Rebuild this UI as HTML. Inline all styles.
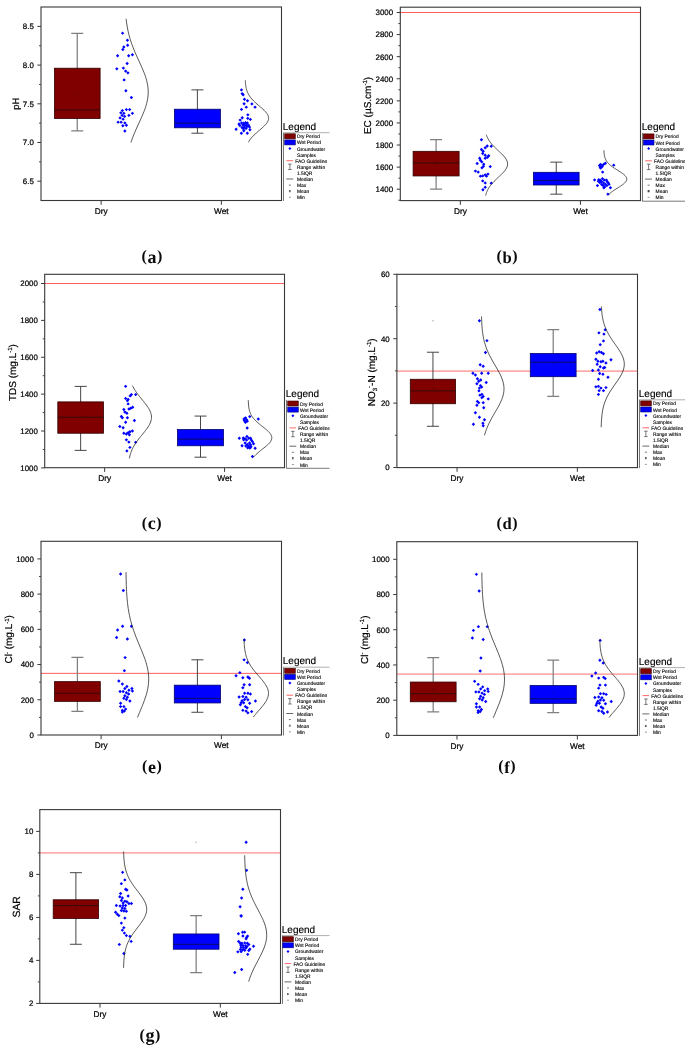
<!DOCTYPE html>
<html><head><meta charset="utf-8"><title>Figure</title>
<style>html,body{margin:0;padding:0;background:#fff;}body{width:685px;height:1046px;overflow:hidden;font-family:"Liberation Sans",sans-serif;}svg{display:block;will-change:transform;}</style>
</head><body>
<svg width="685" height="1046" viewBox="0 0 685 1046" text-rendering="geometricPrecision" font-family="'Liberation Sans', sans-serif">
<defs><clipPath id="cl"><rect x="0" y="0" width="329.5" height="1046"/></clipPath><clipPath id="cr"><rect x="343" y="0" width="342" height="1046"/></clipPath></defs>
<rect width="685" height="1046" fill="#fff"/>
<g>
<path d="M77.25 33.37V130.89M71.25 33.37H83.25M71.25 130.89H83.25" stroke="#808080" stroke-width="1.25" fill="none"/>
<rect x="54.4" y="68.2" width="45.7" height="50.31" fill="#800000" stroke="#300000" stroke-width="0.8"/>
<path d="M54.4 109.99H100.1" stroke="#101010" stroke-width="0.65"/>
<rect x="76.75" y="94.01" width="1" height="1" fill="#300000" opacity="0.8"/>
<path d="M197.4 89.87V133.21M191.4 89.87H203.4M191.4 133.21H203.4" stroke="#3c3c3c" stroke-width="0.95" fill="none"/>
<rect x="174.4" y="109.22" width="46" height="18.58" fill="#0000ff" stroke="#000070" stroke-width="0.8"/>
<path d="M174.4 123.15H220.4" stroke="#101010" stroke-width="0.65"/>
<rect x="196.9" y="117.23" width="1" height="1" fill="#000070" opacity="0.8"/>
<path d="M122.61 31.47l1.7 1.7l-1.7 1.7l-1.7 -1.7z" fill="#0000ff"/>
<path d="M127.39 38.5l1.7 1.7l-1.7 1.7l-1.7 -1.7z" fill="#0000ff"/>
<path d="M127.64 43.53l1.7 1.7l-1.7 1.7l-1.7 -1.7z" fill="#0000ff"/>
<path d="M123.87 45.28l1.7 1.7l-1.7 1.7l-1.7 -1.7z" fill="#0000ff"/>
<path d="M122.86 47.8l1.7 1.7l-1.7 1.7l-1.7 -1.7z" fill="#0000ff"/>
<path d="M117.59 54.08l1.7 1.7l-1.7 1.7l-1.7 -1.7z" fill="#0000ff"/>
<path d="M132.41 53.07l1.7 1.7l-1.7 1.7l-1.7 -1.7z" fill="#0000ff"/>
<path d="M128.64 54.08l1.7 1.7l-1.7 1.7l-1.7 -1.7z" fill="#0000ff"/>
<path d="M127.14 61.87l1.7 1.7l-1.7 1.7l-1.7 -1.7z" fill="#0000ff"/>
<path d="M116.83 67.14l1.7 1.7l-1.7 1.7l-1.7 -1.7z" fill="#0000ff"/>
<path d="M123.37 66.39l1.7 1.7l-1.7 1.7l-1.7 -1.7z" fill="#0000ff"/>
<path d="M125.63 69.41l1.7 1.7l-1.7 1.7l-1.7 -1.7z" fill="#0000ff"/>
<path d="M127.89 71.16l1.7 1.7l-1.7 1.7l-1.7 -1.7z" fill="#0000ff"/>
<path d="M124.12 78.2l1.7 1.7l-1.7 1.7l-1.7 -1.7z" fill="#0000ff"/>
<path d="M125.88 89l1.7 1.7l-1.7 1.7l-1.7 -1.7z" fill="#0000ff"/>
<path d="M131.41 95.84l1.7 1.7l-1.7 1.7l-1.7 -1.7z" fill="#0000ff"/>
<path d="M122.36 108.9l1.7 1.7l-1.7 1.7l-1.7 -1.7z" fill="#0000ff"/>
<path d="M126.38 107.9l1.7 1.7l-1.7 1.7l-1.7 -1.7z" fill="#0000ff"/>
<path d="M129.65 107.9l1.7 1.7l-1.7 1.7l-1.7 -1.7z" fill="#0000ff"/>
<path d="M120.85 111.16l1.7 1.7l-1.7 1.7l-1.7 -1.7z" fill="#0000ff"/>
<path d="M123.87 111.67l1.7 1.7l-1.7 1.7l-1.7 -1.7z" fill="#0000ff"/>
<path d="M132.41 111.67l1.7 1.7l-1.7 1.7l-1.7 -1.7z" fill="#0000ff"/>
<path d="M128.89 113.68l1.7 1.7l-1.7 1.7l-1.7 -1.7z" fill="#0000ff"/>
<path d="M122.11 113.68l1.7 1.7l-1.7 1.7l-1.7 -1.7z" fill="#0000ff"/>
<path d="M124.62 114.68l1.7 1.7l-1.7 1.7l-1.7 -1.7z" fill="#0000ff"/>
<path d="M120.1 116.19l1.7 1.7l-1.7 1.7l-1.7 -1.7z" fill="#0000ff"/>
<path d="M123.12 117.45l1.7 1.7l-1.7 1.7l-1.7 -1.7z" fill="#0000ff"/>
<path d="M118.09 120.46l1.7 1.7l-1.7 1.7l-1.7 -1.7z" fill="#0000ff"/>
<path d="M121.11 120.46l1.7 1.7l-1.7 1.7l-1.7 -1.7z" fill="#0000ff"/>
<path d="M124.87 121.21l1.7 1.7l-1.7 1.7l-1.7 -1.7z" fill="#0000ff"/>
<path d="M126.38 123.48l1.7 1.7l-1.7 1.7l-1.7 -1.7z" fill="#0000ff"/>
<path d="M122.86 123.98l1.7 1.7l-1.7 1.7l-1.7 -1.7z" fill="#0000ff"/>
<path d="M124.87 129.25l1.7 1.7l-1.7 1.7l-1.7 -1.7z" fill="#0000ff"/>
<path d="M241.46 88.19l1.7 1.7l-1.7 1.7l-1.7 -1.7z" fill="#0000ff"/>
<path d="M242.16 91.95l1.7 1.7l-1.7 1.7l-1.7 -1.7z" fill="#0000ff"/>
<path d="M243.13 93l1.7 1.7l-1.7 1.7l-1.7 -1.7z" fill="#0000ff"/>
<path d="M244.44 97.56l1.7 1.7l-1.7 1.7l-1.7 -1.7z" fill="#0000ff"/>
<path d="M247.5 99.04l1.7 1.7l-1.7 1.7l-1.7 -1.7z" fill="#0000ff"/>
<path d="M244.09 102.02l1.7 1.7l-1.7 1.7l-1.7 -1.7z" fill="#0000ff"/>
<path d="M251.88 102.2l1.7 1.7l-1.7 1.7l-1.7 -1.7z" fill="#0000ff"/>
<path d="M246.28 105.44l1.7 1.7l-1.7 1.7l-1.7 -1.7z" fill="#0000ff"/>
<path d="M255.04 105.44l1.7 1.7l-1.7 1.7l-1.7 -1.7z" fill="#0000ff"/>
<path d="M241.46 107.71l1.7 1.7l-1.7 1.7l-1.7 -1.7z" fill="#0000ff"/>
<path d="M247.85 113.14l1.7 1.7l-1.7 1.7l-1.7 -1.7z" fill="#0000ff"/>
<path d="M242.25 116.03l1.7 1.7l-1.7 1.7l-1.7 -1.7z" fill="#0000ff"/>
<path d="M247.77 116.65l1.7 1.7l-1.7 1.7l-1.7 -1.7z" fill="#0000ff"/>
<path d="M250.39 117.7l1.7 1.7l-1.7 1.7l-1.7 -1.7z" fill="#0000ff"/>
<path d="M240.15 118.4l1.7 1.7l-1.7 1.7l-1.7 -1.7z" fill="#0000ff"/>
<path d="M239.01 122.34l1.7 1.7l-1.7 1.7l-1.7 -1.7z" fill="#0000ff"/>
<path d="M241.64 121.29l1.7 1.7l-1.7 1.7l-1.7 -1.7z" fill="#0000ff"/>
<path d="M243.83 121.46l1.7 1.7l-1.7 1.7l-1.7 -1.7z" fill="#0000ff"/>
<path d="M245.58 121.02l1.7 1.7l-1.7 1.7l-1.7 -1.7z" fill="#0000ff"/>
<path d="M247.33 121.29l1.7 1.7l-1.7 1.7l-1.7 -1.7z" fill="#0000ff"/>
<path d="M239.89 123.91l1.7 1.7l-1.7 1.7l-1.7 -1.7z" fill="#0000ff"/>
<path d="M242.95 123.21l1.7 1.7l-1.7 1.7l-1.7 -1.7z" fill="#0000ff"/>
<path d="M244.7 123.65l1.7 1.7l-1.7 1.7l-1.7 -1.7z" fill="#0000ff"/>
<path d="M246.45 123.21l1.7 1.7l-1.7 1.7l-1.7 -1.7z" fill="#0000ff"/>
<path d="M248.64 123.65l1.7 1.7l-1.7 1.7l-1.7 -1.7z" fill="#0000ff"/>
<path d="M242.08 125.84l1.7 1.7l-1.7 1.7l-1.7 -1.7z" fill="#0000ff"/>
<path d="M244.26 125.4l1.7 1.7l-1.7 1.7l-1.7 -1.7z" fill="#0000ff"/>
<path d="M246.89 124.96l1.7 1.7l-1.7 1.7l-1.7 -1.7z" fill="#0000ff"/>
<path d="M249.52 125.4l1.7 1.7l-1.7 1.7l-1.7 -1.7z" fill="#0000ff"/>
<path d="M236.12 127.59l1.7 1.7l-1.7 1.7l-1.7 -1.7z" fill="#0000ff"/>
<path d="M243.39 127.15l1.7 1.7l-1.7 1.7l-1.7 -1.7z" fill="#0000ff"/>
<path d="M246.02 126.72l1.7 1.7l-1.7 1.7l-1.7 -1.7z" fill="#0000ff"/>
<path d="M249.96 128.03l1.7 1.7l-1.7 1.7l-1.7 -1.7z" fill="#0000ff"/>
<path d="M243.83 129.08l1.7 1.7l-1.7 1.7l-1.7 -1.7z" fill="#0000ff"/>
<path d="M241.37 131.53l1.7 1.7l-1.7 1.7l-1.7 -1.7z" fill="#0000ff"/>
<path d="M247.33 131.53l1.7 1.7l-1.7 1.7l-1.7 -1.7z" fill="#0000ff"/>
<path d="M126.09 18.8 L126.34 20.86 L126.62 22.92 L126.93 24.98 L127.28 27.05 L127.67 29.11 L128.1 31.17 L128.57 33.23 L129.09 35.29 L129.65 37.36 L130.26 39.42 L130.92 41.48 L131.62 43.54 L132.37 45.6 L133.15 47.66 L133.98 49.73 L134.84 51.79 L135.73 53.85 L136.65 55.91 L137.58 57.97 L138.52 60.03 L139.47 62.09 L140.41 64.16 L141.34 66.22 L142.25 68.28 L143.12 70.34 L143.95 72.4 L144.73 74.47 L145.46 76.53 L146.11 78.59 L146.68 80.65 L147.17 82.71 L147.57 84.77 L147.88 86.83 L148.08 88.9 L148.19 90.96 L148.19 93.02 L148.08 95.08 L147.88 97.14 L147.58 99.2 L147.18 101.27 L146.69 103.33 L146.11 105.39 L145.46 107.45 L144.74 109.51 L143.96 111.58 L143.13 113.64 L142.26 115.7 L141.35 117.76 L140.42 119.82 L139.48 121.88 L138.53 123.94 L137.59 126.01 L136.66 128.07 L135.74 130.13 L134.85 132.19 L133.99 134.25 L133.16 136.32 L132.38 138.38 L131.63 140.44 L130.93 142.5" fill="none" stroke="#1e1e1e" stroke-width="0.75"/>
<path d="M245.31 80.3 L245.36 81.33 L245.43 82.37 L245.51 83.4 L245.61 84.43 L245.74 85.47 L245.9 86.5 L246.09 87.53 L246.31 88.57 L246.58 89.6 L246.9 90.63 L247.27 91.67 L247.7 92.7 L248.19 93.73 L248.75 94.77 L249.39 95.8 L250.09 96.83 L250.88 97.87 L251.74 98.9 L252.67 99.93 L253.67 100.97 L254.74 102 L255.86 103.03 L257.02 104.07 L258.22 105.1 L259.43 106.13 L260.64 107.17 L261.83 108.2 L262.98 109.23 L264.08 110.27 L265.09 111.3 L266.01 112.33 L266.81 113.37 L267.47 114.4 L268 115.43 L268.36 116.47 L268.56 117.5 L268.59 118.53 L268.45 119.57 L268.14 120.6 L267.68 121.63 L267.06 122.67 L266.3 123.7 L265.43 124.73 L264.45 125.77 L263.38 126.8 L262.25 127.83 L261.07 128.87 L259.86 129.9 L258.65 130.93 L257.45 131.97 L256.27 133 L255.13 134.03 L254.05 135.07 L253.02 136.1 L252.06 137.13 L251.18 138.17 L250.36 139.2 L249.63 140.23 L248.97 141.27 L248.38 142.3" fill="none" stroke="#1e1e1e" stroke-width="0.75"/>
<rect x="41" y="7" width="240.5" height="193.5" fill="none" stroke="#383838" stroke-width="1.1"/>
<path d="M37.4 26.4H41" stroke="#383838" stroke-width="1"/>
<text x="33.8" y="29.25" font-size="7.9" text-anchor="end" fill="#000" stroke="#000" stroke-width="0.22">8.5</text>
<path d="M37.4 65.1H41" stroke="#383838" stroke-width="1"/>
<text x="33.8" y="67.95" font-size="7.9" text-anchor="end" fill="#000" stroke="#000" stroke-width="0.22">8.0</text>
<path d="M37.4 103.8H41" stroke="#383838" stroke-width="1"/>
<text x="33.8" y="106.65" font-size="7.9" text-anchor="end" fill="#000" stroke="#000" stroke-width="0.22">7.5</text>
<path d="M37.4 142.5H41" stroke="#383838" stroke-width="1"/>
<text x="33.8" y="145.35" font-size="7.9" text-anchor="end" fill="#000" stroke="#000" stroke-width="0.22">7.0</text>
<path d="M37.4 181.2H41" stroke="#383838" stroke-width="1"/>
<text x="33.8" y="184.05" font-size="7.9" text-anchor="end" fill="#000" stroke="#000" stroke-width="0.22">6.5</text>
<path d="M39 45.75H41" stroke="#383838" stroke-width="0.9"/>
<path d="M39 84.45H41" stroke="#383838" stroke-width="0.9"/>
<path d="M39 123.15H41" stroke="#383838" stroke-width="0.9"/>
<path d="M39 161.85H41" stroke="#383838" stroke-width="0.9"/>
<path d="M101.12 200.5V204.7" stroke="#383838" stroke-width="1"/>
<text x="101.12" y="213.8" font-size="8.3" text-anchor="middle" fill="#000" stroke="#000" stroke-width="0.22">Dry</text>
<path d="M221.38 200.5V204.7" stroke="#383838" stroke-width="1"/>
<text x="221.38" y="213.8" font-size="8.3" text-anchor="middle" fill="#000" stroke="#000" stroke-width="0.22">Wet</text>
<text transform="translate(18.8 103.8) rotate(-90)" font-size="9.4" text-anchor="middle" fill="#000" stroke="#000" stroke-width="0.2">pH</text>
<g clip-path="url(#cl)">
<text x="282.8" y="129.7" font-size="10" fill="#000" stroke="#000" stroke-width="0.15">Legend</text>
<path d="M283.3 132.7H351.5" stroke="#9a9a9a" stroke-width="0.8"/>
<path d="M283.5 132.7V201" stroke="#555" stroke-width="0.8" fill="none"/>
<text x="296.9" y="138.3" font-size="4.9" fill="#000" stroke="#000" stroke-width="0.12">Dry Period</text>
<text x="296.9" y="144.4" font-size="4.9" fill="#000" stroke="#000" stroke-width="0.12">Wet Period</text>
<text x="296.9" y="150.5" font-size="4.9" fill="#000" stroke="#000" stroke-width="0.12">Groundwater</text>
<text x="296.9" y="156.6" font-size="4.9" fill="#000" stroke="#000" stroke-width="0.12">Samples</text>
<text x="295.3" y="162.7" font-size="4.9" fill="#000" stroke="#000" stroke-width="0.12">FAO Guideline</text>
<text x="296.9" y="168.8" font-size="4.9" fill="#000" stroke="#000" stroke-width="0.12">Range within</text>
<text x="296.9" y="174.9" font-size="4.9" fill="#000" stroke="#000" stroke-width="0.12">1.5IQR</text>
<text x="296.9" y="181" font-size="4.9" fill="#000" stroke="#000" stroke-width="0.12">Median</text>
<text x="296.9" y="187.1" font-size="4.9" fill="#000" stroke="#000" stroke-width="0.12">Max</text>
<text x="296.9" y="193.2" font-size="4.9" fill="#000" stroke="#000" stroke-width="0.12">Mean</text>
<text x="296.9" y="199.3" font-size="4.9" fill="#000" stroke="#000" stroke-width="0.12">Min</text>
<rect x="284.7" y="133.8" width="10.6" height="5" fill="#800000" stroke="#3a0000" stroke-width="0.6"/>
<rect x="284.7" y="139.9" width="10.6" height="5" fill="#0000ff" stroke="#00006a" stroke-width="0.6"/>
<path d="M289.9 147l1.5 1.5l-1.5 1.5l-1.5 -1.5z" fill="#0000ff"/>
<path d="M286.5 160.7h6.6" stroke="#ff4040" stroke-width="0.8"/>
<path d="M289.9 164.1v5.4M288.1 164.1h3.6M288.1 169.5h3.6" stroke="#444" stroke-width="0.7" fill="none"/>
<path d="M286.3 179h7" stroke="#444" stroke-width="0.8"/>
<path d="M288.9 185.1h2" stroke="#333" stroke-width="0.7"/>
<rect x="289.2" y="190.5" width="1.4" height="1.4" fill="none" stroke="#333" stroke-width="0.5"/>
<path d="M288.9 197.3h2" stroke="#555" stroke-width="0.6"/>
</g>
<text x="152.2" y="261.1" font-family="'Liberation Serif', serif" font-weight="bold" text-anchor="middle" letter-spacing="0.6" fill="#0a0a0a"><tspan font-size="16">(</tspan><tspan font-size="18" dy="1.6">a</tspan><tspan font-size="16" dy="-1.6">)</tspan></text>
</g>
<g>
<path d="M400.3 12.5H640.5" stroke="#ff4848" stroke-width="0.9"/>
<path d="M436.1 139.72V189.2M430.1 139.72H442.1M430.1 189.2H442.1" stroke="#808080" stroke-width="1.25" fill="none"/>
<rect x="413.1" y="151.32" width="46" height="24.63" fill="#800000" stroke="#300000" stroke-width="0.8"/>
<path d="M413.1 162.92H459.1" stroke="#101010" stroke-width="0.65"/>
<rect x="435.6" y="163.08" width="1" height="1" fill="#300000" opacity="0.8"/>
<path d="M556.25 162.14V194.17M550.25 162.14H562.25M550.25 194.17H562.25" stroke="#3c3c3c" stroke-width="0.95" fill="none"/>
<rect x="533.4" y="172.3" width="45.7" height="12.7" fill="#0000ff" stroke="#000070" stroke-width="0.8"/>
<path d="M533.4 180.37H579.1" stroke="#101010" stroke-width="0.65"/>
<rect x="555.75" y="178.76" width="1" height="1" fill="#000070" opacity="0.8"/>
<path d="M481.44 138l1.7 1.7l-1.7 1.7l-1.7 -1.7z" fill="#0000ff"/>
<path d="M487.22 144.28l1.7 1.7l-1.7 1.7l-1.7 -1.7z" fill="#0000ff"/>
<path d="M491.24 144.53l1.7 1.7l-1.7 1.7l-1.7 -1.7z" fill="#0000ff"/>
<path d="M485.21 146.04l1.7 1.7l-1.7 1.7l-1.7 -1.7z" fill="#0000ff"/>
<path d="M481.44 147.8l1.7 1.7l-1.7 1.7l-1.7 -1.7z" fill="#0000ff"/>
<path d="M483.2 149.56l1.7 1.7l-1.7 1.7l-1.7 -1.7z" fill="#0000ff"/>
<path d="M482.7 151.82l1.7 1.7l-1.7 1.7l-1.7 -1.7z" fill="#0000ff"/>
<path d="M485.21 153.58l1.7 1.7l-1.7 1.7l-1.7 -1.7z" fill="#0000ff"/>
<path d="M488.73 154.08l1.7 1.7l-1.7 1.7l-1.7 -1.7z" fill="#0000ff"/>
<path d="M487.47 155.59l1.7 1.7l-1.7 1.7l-1.7 -1.7z" fill="#0000ff"/>
<path d="M485.21 156.59l1.7 1.7l-1.7 1.7l-1.7 -1.7z" fill="#0000ff"/>
<path d="M479.68 156.59l1.7 1.7l-1.7 1.7l-1.7 -1.7z" fill="#0000ff"/>
<path d="M480.44 158.6l1.7 1.7l-1.7 1.7l-1.7 -1.7z" fill="#0000ff"/>
<path d="M481.69 160.11l1.7 1.7l-1.7 1.7l-1.7 -1.7z" fill="#0000ff"/>
<path d="M477.17 161.87l1.7 1.7l-1.7 1.7l-1.7 -1.7z" fill="#0000ff"/>
<path d="M483.7 162.62l1.7 1.7l-1.7 1.7l-1.7 -1.7z" fill="#0000ff"/>
<path d="M483.45 164.63l1.7 1.7l-1.7 1.7l-1.7 -1.7z" fill="#0000ff"/>
<path d="M490.24 164.88l1.7 1.7l-1.7 1.7l-1.7 -1.7z" fill="#0000ff"/>
<path d="M481.94 166.14l1.7 1.7l-1.7 1.7l-1.7 -1.7z" fill="#0000ff"/>
<path d="M475.41 169.41l1.7 1.7l-1.7 1.7l-1.7 -1.7z" fill="#0000ff"/>
<path d="M478.18 170.41l1.7 1.7l-1.7 1.7l-1.7 -1.7z" fill="#0000ff"/>
<path d="M487.97 172.42l1.7 1.7l-1.7 1.7l-1.7 -1.7z" fill="#0000ff"/>
<path d="M485.21 173.17l1.7 1.7l-1.7 1.7l-1.7 -1.7z" fill="#0000ff"/>
<path d="M482.7 174.18l1.7 1.7l-1.7 1.7l-1.7 -1.7z" fill="#0000ff"/>
<path d="M480.44 174.43l1.7 1.7l-1.7 1.7l-1.7 -1.7z" fill="#0000ff"/>
<path d="M486.47 174.43l1.7 1.7l-1.7 1.7l-1.7 -1.7z" fill="#0000ff"/>
<path d="M482.7 179.2l1.7 1.7l-1.7 1.7l-1.7 -1.7z" fill="#0000ff"/>
<path d="M485.21 181.21l1.7 1.7l-1.7 1.7l-1.7 -1.7z" fill="#0000ff"/>
<path d="M491.24 181.47l1.7 1.7l-1.7 1.7l-1.7 -1.7z" fill="#0000ff"/>
<path d="M485.21 185.49l1.7 1.7l-1.7 1.7l-1.7 -1.7z" fill="#0000ff"/>
<path d="M482.95 188l1.7 1.7l-1.7 1.7l-1.7 -1.7z" fill="#0000ff"/>
<path d="M605.34 161.48l1.7 1.7l-1.7 1.7l-1.7 -1.7z" fill="#0000ff"/>
<path d="M603.52 162.72l1.7 1.7l-1.7 1.7l-1.7 -1.7z" fill="#0000ff"/>
<path d="M600.6 162.72l1.7 1.7l-1.7 1.7l-1.7 -1.7z" fill="#0000ff"/>
<path d="M599.5 163.82l1.7 1.7l-1.7 1.7l-1.7 -1.7z" fill="#0000ff"/>
<path d="M602.42 164.18l1.7 1.7l-1.7 1.7l-1.7 -1.7z" fill="#0000ff"/>
<path d="M600.23 165.28l1.7 1.7l-1.7 1.7l-1.7 -1.7z" fill="#0000ff"/>
<path d="M601.69 165.42l1.7 1.7l-1.7 1.7l-1.7 -1.7z" fill="#0000ff"/>
<path d="M600.6 166.37l1.7 1.7l-1.7 1.7l-1.7 -1.7z" fill="#0000ff"/>
<path d="M613.74 163.45l1.7 1.7l-1.7 1.7l-1.7 -1.7z" fill="#0000ff"/>
<path d="M602.64 170.39l1.7 1.7l-1.7 1.7l-1.7 -1.7z" fill="#0000ff"/>
<path d="M594.61 178.2l1.7 1.7l-1.7 1.7l-1.7 -1.7z" fill="#0000ff"/>
<path d="M602.42 176.96l1.7 1.7l-1.7 1.7l-1.7 -1.7z" fill="#0000ff"/>
<path d="M598.77 178.05l1.7 1.7l-1.7 1.7l-1.7 -1.7z" fill="#0000ff"/>
<path d="M600.6 178.78l1.7 1.7l-1.7 1.7l-1.7 -1.7z" fill="#0000ff"/>
<path d="M604.25 178.42l1.7 1.7l-1.7 1.7l-1.7 -1.7z" fill="#0000ff"/>
<path d="M606.44 178.42l1.7 1.7l-1.7 1.7l-1.7 -1.7z" fill="#0000ff"/>
<path d="M598.41 179.51l1.7 1.7l-1.7 1.7l-1.7 -1.7z" fill="#0000ff"/>
<path d="M601.69 179.88l1.7 1.7l-1.7 1.7l-1.7 -1.7z" fill="#0000ff"/>
<path d="M607.17 180.02l1.7 1.7l-1.7 1.7l-1.7 -1.7z" fill="#0000ff"/>
<path d="M599.87 180.97l1.7 1.7l-1.7 1.7l-1.7 -1.7z" fill="#0000ff"/>
<path d="M603.52 181.34l1.7 1.7l-1.7 1.7l-1.7 -1.7z" fill="#0000ff"/>
<path d="M608.26 181.34l1.7 1.7l-1.7 1.7l-1.7 -1.7z" fill="#0000ff"/>
<path d="M605.34 182.43l1.7 1.7l-1.7 1.7l-1.7 -1.7z" fill="#0000ff"/>
<path d="M608.99 182.65l1.7 1.7l-1.7 1.7l-1.7 -1.7z" fill="#0000ff"/>
<path d="M601.69 182.8l1.7 1.7l-1.7 1.7l-1.7 -1.7z" fill="#0000ff"/>
<path d="M597.46 183.89l1.7 1.7l-1.7 1.7l-1.7 -1.7z" fill="#0000ff"/>
<path d="M603.15 183.89l1.7 1.7l-1.7 1.7l-1.7 -1.7z" fill="#0000ff"/>
<path d="M606.8 183.89l1.7 1.7l-1.7 1.7l-1.7 -1.7z" fill="#0000ff"/>
<path d="M604.61 185.35l1.7 1.7l-1.7 1.7l-1.7 -1.7z" fill="#0000ff"/>
<path d="M603.88 186.08l1.7 1.7l-1.7 1.7l-1.7 -1.7z" fill="#0000ff"/>
<path d="M610.45 186.08l1.7 1.7l-1.7 1.7l-1.7 -1.7z" fill="#0000ff"/>
<path d="M607.9 192.43l1.7 1.7l-1.7 1.7l-1.7 -1.7z" fill="#0000ff"/>
<path d="M486.27 134.7 L486.63 135.71 L487.04 136.73 L487.5 137.74 L488.03 138.75 L488.61 139.77 L489.25 140.78 L489.95 141.79 L490.71 142.81 L491.53 143.82 L492.41 144.83 L493.34 145.85 L494.32 146.86 L495.34 147.87 L496.39 148.89 L497.46 149.9 L498.55 150.91 L499.63 151.93 L500.7 152.94 L501.74 153.95 L502.73 154.97 L503.67 155.98 L504.54 156.99 L505.32 158.01 L506 159.02 L506.57 160.03 L507.02 161.05 L507.35 162.06 L507.54 163.07 L507.6 164.09 L507.52 165.1 L507.3 166.11 L506.96 167.13 L506.48 168.14 L505.89 169.15 L505.19 170.17 L504.39 171.18 L503.52 172.19 L502.57 173.21 L501.56 174.22 L500.52 175.23 L499.45 176.25 L498.36 177.26 L497.28 178.27 L496.21 179.29 L495.16 180.3 L494.15 181.31 L493.18 182.33 L492.26 183.34 L491.39 184.35 L490.57 185.37 L489.82 186.38 L489.13 187.39 L488.5 188.41 L487.93 189.42 L487.42 190.43 L486.97 191.45 L486.56 192.46 L486.21 193.47 L485.9 194.49 L485.63 195.5" fill="none" stroke="#1e1e1e" stroke-width="0.75"/>
<path d="M603.9 150.3 L603.93 151.05 L603.97 151.79 L604.03 152.54 L604.09 153.28 L604.18 154.03 L604.28 154.77 L604.41 155.52 L604.57 156.26 L604.76 157 L604.98 157.75 L605.25 158.5 L605.57 159.24 L605.94 159.99 L606.36 160.73 L606.85 161.47 L607.41 162.22 L608.03 162.97 L608.73 163.71 L609.5 164.46 L610.35 165.2 L611.27 165.95 L612.25 166.69 L613.3 167.44 L614.4 168.18 L615.54 168.93 L616.71 169.67 L617.89 170.42 L619.07 171.16 L620.23 171.91 L621.35 172.65 L622.42 173.4 L623.4 174.14 L624.29 174.88 L625.07 175.63 L625.72 176.38 L626.22 177.12 L626.57 177.87 L626.76 178.61 L626.79 179.36 L626.65 180.1 L626.35 180.84 L625.89 181.59 L625.29 182.34 L624.55 183.08 L623.69 183.82 L622.74 184.57 L621.69 185.31 L620.59 186.06 L619.44 186.81 L618.26 187.55 L617.08 188.3 L615.9 189.04 L614.75 189.78 L613.64 190.53 L612.58 191.28 L611.57 192.02 L610.63 192.76 L609.76 193.51 L608.97 194.25 L608.25 195" fill="none" stroke="#1e1e1e" stroke-width="0.75"/>
<rect x="400.3" y="7.2" width="240.2" height="193.4" fill="none" stroke="#383838" stroke-width="1.1"/>
<path d="M396.7 12.5H400.3" stroke="#383838" stroke-width="1"/>
<text x="393.1" y="15.35" font-size="7.9" text-anchor="end" fill="#000" stroke="#000" stroke-width="0.22">3000</text>
<path d="M396.7 34.59H400.3" stroke="#383838" stroke-width="1"/>
<text x="393.1" y="37.44" font-size="7.9" text-anchor="end" fill="#000" stroke="#000" stroke-width="0.22">2800</text>
<path d="M396.7 56.67H400.3" stroke="#383838" stroke-width="1"/>
<text x="393.1" y="59.52" font-size="7.9" text-anchor="end" fill="#000" stroke="#000" stroke-width="0.22">2600</text>
<path d="M396.7 78.76H400.3" stroke="#383838" stroke-width="1"/>
<text x="393.1" y="81.61" font-size="7.9" text-anchor="end" fill="#000" stroke="#000" stroke-width="0.22">2400</text>
<path d="M396.7 100.85H400.3" stroke="#383838" stroke-width="1"/>
<text x="393.1" y="103.7" font-size="7.9" text-anchor="end" fill="#000" stroke="#000" stroke-width="0.22">2200</text>
<path d="M396.7 122.94H400.3" stroke="#383838" stroke-width="1"/>
<text x="393.1" y="125.79" font-size="7.9" text-anchor="end" fill="#000" stroke="#000" stroke-width="0.22">2000</text>
<path d="M396.7 145.03H400.3" stroke="#383838" stroke-width="1"/>
<text x="393.1" y="147.88" font-size="7.9" text-anchor="end" fill="#000" stroke="#000" stroke-width="0.22">1800</text>
<path d="M396.7 167.11H400.3" stroke="#383838" stroke-width="1"/>
<text x="393.1" y="169.96" font-size="7.9" text-anchor="end" fill="#000" stroke="#000" stroke-width="0.22">1600</text>
<path d="M396.7 189.2H400.3" stroke="#383838" stroke-width="1"/>
<text x="393.1" y="192.05" font-size="7.9" text-anchor="end" fill="#000" stroke="#000" stroke-width="0.22">1400</text>
<path d="M398.3 23.54H400.3" stroke="#383838" stroke-width="0.9"/>
<path d="M398.3 45.63H400.3" stroke="#383838" stroke-width="0.9"/>
<path d="M398.3 67.72H400.3" stroke="#383838" stroke-width="0.9"/>
<path d="M398.3 89.81H400.3" stroke="#383838" stroke-width="0.9"/>
<path d="M398.3 111.89H400.3" stroke="#383838" stroke-width="0.9"/>
<path d="M398.3 133.98H400.3" stroke="#383838" stroke-width="0.9"/>
<path d="M398.3 156.07H400.3" stroke="#383838" stroke-width="0.9"/>
<path d="M398.3 178.16H400.3" stroke="#383838" stroke-width="0.9"/>
<path d="M398.3 200.24H400.3" stroke="#383838" stroke-width="0.9"/>
<path d="M460.35 200.6V204.8" stroke="#383838" stroke-width="1"/>
<text x="460.35" y="213.9" font-size="8.3" text-anchor="middle" fill="#000" stroke="#000" stroke-width="0.22">Dry</text>
<path d="M580.45 200.6V204.8" stroke="#383838" stroke-width="1"/>
<text x="580.45" y="213.9" font-size="8.3" text-anchor="middle" fill="#000" stroke="#000" stroke-width="0.22">Wet</text>
<text transform="translate(371 105.5) rotate(-90)" font-size="10" text-anchor="middle" fill="#000" stroke="#000" stroke-width="0.2">EC (µS.cm<tspan font-size="6" dy="-3.6">-1</tspan><tspan dy="3.6">)</tspan></text>
<g clip-path="url(#cr)">
<text x="641.8" y="129.8" font-size="10" fill="#000" stroke="#000" stroke-width="0.15">Legend</text>
<path d="M642.5 132.8V201.1" stroke="#555" stroke-width="0.8" fill="none"/>
<path d="M642.1 201.2H710.5" stroke="#6a6a6a" stroke-width="0.9"/>
<text x="655.6" y="138.4" font-size="4.9" fill="#000" stroke="#000" stroke-width="0.12">Dry Period</text>
<text x="655.6" y="144.5" font-size="4.9" fill="#000" stroke="#000" stroke-width="0.12">Wet Period</text>
<text x="655.6" y="150.6" font-size="4.9" fill="#000" stroke="#000" stroke-width="0.12">Groundwater</text>
<text x="655.6" y="156.7" font-size="4.9" fill="#000" stroke="#000" stroke-width="0.12">Samples</text>
<text x="654" y="162.8" font-size="4.9" fill="#000" stroke="#000" stroke-width="0.12">FAO Guideline</text>
<text x="655.6" y="168.9" font-size="4.9" fill="#000" stroke="#000" stroke-width="0.12">Range within</text>
<text x="655.6" y="175" font-size="4.9" fill="#000" stroke="#000" stroke-width="0.12">1.5IQR</text>
<text x="655.6" y="181.1" font-size="4.9" fill="#000" stroke="#000" stroke-width="0.12">Median</text>
<text x="655.6" y="187.2" font-size="4.9" fill="#000" stroke="#000" stroke-width="0.12">Max</text>
<text x="655.6" y="193.3" font-size="4.9" fill="#000" stroke="#000" stroke-width="0.12">Mean</text>
<text x="655.6" y="199.4" font-size="4.9" fill="#000" stroke="#000" stroke-width="0.12">Min</text>
<rect x="643.4" y="133.9" width="10.6" height="5" fill="#800000" stroke="#3a0000" stroke-width="0.6"/>
<rect x="643.4" y="140" width="10.6" height="5" fill="#0000ff" stroke="#00006a" stroke-width="0.6"/>
<path d="M648.6 147.1l1.5 1.5l-1.5 1.5l-1.5 -1.5z" fill="#0000ff"/>
<path d="M645.2 160.8h6.6" stroke="#ff4040" stroke-width="0.8"/>
<path d="M648.6 164.2v5.4M646.8 164.2h3.6M646.8 169.6h3.6" stroke="#444" stroke-width="0.7" fill="none"/>
<path d="M645 179.1h7" stroke="#444" stroke-width="0.8"/>
<path d="M647.6 185.2h2" stroke="#333" stroke-width="0.7"/>
<rect x="647.9" y="190.6" width="1.4" height="1.4" fill="none" stroke="#333" stroke-width="0.5"/>
<path d="M647.6 197.4h2" stroke="#555" stroke-width="0.6"/>
</g>
<text x="507.3" y="261.1" font-family="'Liberation Serif', serif" font-weight="bold" text-anchor="middle" letter-spacing="0.6" fill="#0a0a0a"><tspan font-size="16">(</tspan><tspan font-size="16.6" dy="1.6">b</tspan><tspan font-size="16" dy="-1.6">)</tspan></text>
</g>
<g>
<path d="M44.7 283.5H284.5" stroke="#ff4848" stroke-width="0.9"/>
<path d="M80.65 386.4V450.38M74.65 386.4H86.65M74.65 450.38H86.65" stroke="#3c3c3c" stroke-width="0.95" fill="none"/>
<rect x="57.8" y="401.88" width="45.7" height="31.35" fill="#800000" stroke="#300000" stroke-width="0.8"/>
<path d="M57.8 417.19H103.5" stroke="#101010" stroke-width="0.65"/>
<rect x="80.15" y="415.77" width="1" height="1" fill="#300000" opacity="0.8"/>
<path d="M200.5 416.08V457.2M194.5 416.08H206.5M194.5 457.2H206.5" stroke="#3c3c3c" stroke-width="0.95" fill="none"/>
<rect x="177.5" y="429.54" width="46" height="16.23" fill="#0000ff" stroke="#000070" stroke-width="0.8"/>
<path d="M177.5 439.13H223.5" stroke="#101010" stroke-width="0.65"/>
<rect x="200" y="436.42" width="1" height="1" fill="#000070" opacity="0.8"/>
<path d="M125.63 384.63l1.7 1.7l-1.7 1.7l-1.7 -1.7z" fill="#0000ff"/>
<path d="M135.68 392.92l1.7 1.7l-1.7 1.7l-1.7 -1.7z" fill="#0000ff"/>
<path d="M131.41 392.92l1.7 1.7l-1.7 1.7l-1.7 -1.7z" fill="#0000ff"/>
<path d="M130.15 394.18l1.7 1.7l-1.7 1.7l-1.7 -1.7z" fill="#0000ff"/>
<path d="M125.63 396.69l1.7 1.7l-1.7 1.7l-1.7 -1.7z" fill="#0000ff"/>
<path d="M128.14 397.7l1.7 1.7l-1.7 1.7l-1.7 -1.7z" fill="#0000ff"/>
<path d="M127.39 398.95l1.7 1.7l-1.7 1.7l-1.7 -1.7z" fill="#0000ff"/>
<path d="M128.14 402.22l1.7 1.7l-1.7 1.7l-1.7 -1.7z" fill="#0000ff"/>
<path d="M132.66 405.49l1.7 1.7l-1.7 1.7l-1.7 -1.7z" fill="#0000ff"/>
<path d="M130.65 406.49l1.7 1.7l-1.7 1.7l-1.7 -1.7z" fill="#0000ff"/>
<path d="M128.89 407.24l1.7 1.7l-1.7 1.7l-1.7 -1.7z" fill="#0000ff"/>
<path d="M123.87 407.75l1.7 1.7l-1.7 1.7l-1.7 -1.7z" fill="#0000ff"/>
<path d="M124.87 410.26l1.7 1.7l-1.7 1.7l-1.7 -1.7z" fill="#0000ff"/>
<path d="M126.88 411.52l1.7 1.7l-1.7 1.7l-1.7 -1.7z" fill="#0000ff"/>
<path d="M121.36 414.78l1.7 1.7l-1.7 1.7l-1.7 -1.7z" fill="#0000ff"/>
<path d="M127.39 416.04l1.7 1.7l-1.7 1.7l-1.7 -1.7z" fill="#0000ff"/>
<path d="M122.36 416.04l1.7 1.7l-1.7 1.7l-1.7 -1.7z" fill="#0000ff"/>
<path d="M134.42 418.8l1.7 1.7l-1.7 1.7l-1.7 -1.7z" fill="#0000ff"/>
<path d="M125.63 420.56l1.7 1.7l-1.7 1.7l-1.7 -1.7z" fill="#0000ff"/>
<path d="M119.85 424.83l1.7 1.7l-1.7 1.7l-1.7 -1.7z" fill="#0000ff"/>
<path d="M123.12 426.09l1.7 1.7l-1.7 1.7l-1.7 -1.7z" fill="#0000ff"/>
<path d="M132.41 429.36l1.7 1.7l-1.7 1.7l-1.7 -1.7z" fill="#0000ff"/>
<path d="M129.9 430.11l1.7 1.7l-1.7 1.7l-1.7 -1.7z" fill="#0000ff"/>
<path d="M128.14 431.11l1.7 1.7l-1.7 1.7l-1.7 -1.7z" fill="#0000ff"/>
<path d="M123.87 431.62l1.7 1.7l-1.7 1.7l-1.7 -1.7z" fill="#0000ff"/>
<path d="M126.38 432.37l1.7 1.7l-1.7 1.7l-1.7 -1.7z" fill="#0000ff"/>
<path d="M129.4 433.12l1.7 1.7l-1.7 1.7l-1.7 -1.7z" fill="#0000ff"/>
<path d="M126.38 438.15l1.7 1.7l-1.7 1.7l-1.7 -1.7z" fill="#0000ff"/>
<path d="M128.89 440.41l1.7 1.7l-1.7 1.7l-1.7 -1.7z" fill="#0000ff"/>
<path d="M135.68 440.66l1.7 1.7l-1.7 1.7l-1.7 -1.7z" fill="#0000ff"/>
<path d="M129.9 445.69l1.7 1.7l-1.7 1.7l-1.7 -1.7z" fill="#0000ff"/>
<path d="M126.88 449.2l1.7 1.7l-1.7 1.7l-1.7 -1.7z" fill="#0000ff"/>
<path d="M249.74 414.91l1.7 1.7l-1.7 1.7l-1.7 -1.7z" fill="#0000ff"/>
<path d="M245.5 416.15l1.7 1.7l-1.7 1.7l-1.7 -1.7z" fill="#0000ff"/>
<path d="M244.04 417.25l1.7 1.7l-1.7 1.7l-1.7 -1.7z" fill="#0000ff"/>
<path d="M246.6 417.98l1.7 1.7l-1.7 1.7l-1.7 -1.7z" fill="#0000ff"/>
<path d="M244.41 419.07l1.7 1.7l-1.7 1.7l-1.7 -1.7z" fill="#0000ff"/>
<path d="M247.33 419.44l1.7 1.7l-1.7 1.7l-1.7 -1.7z" fill="#0000ff"/>
<path d="M245.5 420.53l1.7 1.7l-1.7 1.7l-1.7 -1.7z" fill="#0000ff"/>
<path d="M258.28 417.25l1.7 1.7l-1.7 1.7l-1.7 -1.7z" fill="#0000ff"/>
<path d="M247.18 426.37l1.7 1.7l-1.7 1.7l-1.7 -1.7z" fill="#0000ff"/>
<path d="M239.3 436.59l1.7 1.7l-1.7 1.7l-1.7 -1.7z" fill="#0000ff"/>
<path d="M246.96 434.77l1.7 1.7l-1.7 1.7l-1.7 -1.7z" fill="#0000ff"/>
<path d="M243.31 436.23l1.7 1.7l-1.7 1.7l-1.7 -1.7z" fill="#0000ff"/>
<path d="M245.14 436.96l1.7 1.7l-1.7 1.7l-1.7 -1.7z" fill="#0000ff"/>
<path d="M248.79 436.59l1.7 1.7l-1.7 1.7l-1.7 -1.7z" fill="#0000ff"/>
<path d="M250.61 436.59l1.7 1.7l-1.7 1.7l-1.7 -1.7z" fill="#0000ff"/>
<path d="M243.68 438.05l1.7 1.7l-1.7 1.7l-1.7 -1.7z" fill="#0000ff"/>
<path d="M246.6 438.42l1.7 1.7l-1.7 1.7l-1.7 -1.7z" fill="#0000ff"/>
<path d="M251.34 438.42l1.7 1.7l-1.7 1.7l-1.7 -1.7z" fill="#0000ff"/>
<path d="M252.44 439.88l1.7 1.7l-1.7 1.7l-1.7 -1.7z" fill="#0000ff"/>
<path d="M245.14 441.34l1.7 1.7l-1.7 1.7l-1.7 -1.7z" fill="#0000ff"/>
<path d="M249.52 441.34l1.7 1.7l-1.7 1.7l-1.7 -1.7z" fill="#0000ff"/>
<path d="M253.53 442.07l1.7 1.7l-1.7 1.7l-1.7 -1.7z" fill="#0000ff"/>
<path d="M247.33 442.8l1.7 1.7l-1.7 1.7l-1.7 -1.7z" fill="#0000ff"/>
<path d="M250.61 443.16l1.7 1.7l-1.7 1.7l-1.7 -1.7z" fill="#0000ff"/>
<path d="M242.07 444.04l1.7 1.7l-1.7 1.7l-1.7 -1.7z" fill="#0000ff"/>
<path d="M245.87 444.26l1.7 1.7l-1.7 1.7l-1.7 -1.7z" fill="#0000ff"/>
<path d="M248.79 444.62l1.7 1.7l-1.7 1.7l-1.7 -1.7z" fill="#0000ff"/>
<path d="M250.98 444.99l1.7 1.7l-1.7 1.7l-1.7 -1.7z" fill="#0000ff"/>
<path d="M247.69 446.08l1.7 1.7l-1.7 1.7l-1.7 -1.7z" fill="#0000ff"/>
<path d="M249.88 446.3l1.7 1.7l-1.7 1.7l-1.7 -1.7z" fill="#0000ff"/>
<path d="M255.14 446.59l1.7 1.7l-1.7 1.7l-1.7 -1.7z" fill="#0000ff"/>
<path d="M252.44 454.84l1.7 1.7l-1.7 1.7l-1.7 -1.7z" fill="#0000ff"/>
<path d="M132.45 385.6 L133.04 386.81 L133.69 388.03 L134.39 389.24 L135.15 390.45 L135.94 391.67 L136.79 392.88 L137.67 394.09 L138.59 395.31 L139.55 396.52 L140.52 397.73 L141.51 398.95 L142.51 400.16 L143.5 401.37 L144.48 402.59 L145.44 403.8 L146.37 405.01 L147.24 406.23 L148.06 407.44 L148.82 408.65 L149.49 409.87 L150.08 411.08 L150.58 412.29 L150.97 413.51 L151.26 414.72 L151.44 415.93 L151.5 417.15 L151.45 418.36 L151.28 419.57 L151 420.79 L150.62 422 L150.13 423.21 L149.55 424.43 L148.88 425.64 L148.13 426.85 L147.32 428.07 L146.44 429.28 L145.53 430.49 L144.57 431.71 L143.59 432.92 L142.6 434.13 L141.6 435.35 L140.61 436.56 L139.63 437.77 L138.68 438.99 L137.75 440.2 L136.86 441.41 L136.02 442.63 L135.21 443.84 L134.46 445.05 L133.75 446.27 L133.1 447.48 L132.5 448.69 L131.94 449.91 L131.44 451.12 L130.99 452.33 L130.58 453.55 L130.21 454.76 L129.89 455.97 L129.6 457.19 L129.35 458.4" fill="none" stroke="#1e1e1e" stroke-width="0.75"/>
<path d="M248.29 400.2 L248.32 401.15 L248.36 402.11 L248.4 403.06 L248.46 404.01 L248.54 404.97 L248.63 405.92 L248.74 406.87 L248.88 407.83 L249.05 408.78 L249.25 409.73 L249.5 410.69 L249.78 411.64 L250.12 412.59 L250.51 413.55 L250.97 414.5 L251.48 415.45 L252.07 416.41 L252.73 417.36 L253.47 418.31 L254.28 419.27 L255.16 420.22 L256.12 421.17 L257.14 422.13 L258.23 423.08 L259.36 424.03 L260.54 424.99 L261.74 425.94 L262.95 426.89 L264.16 427.85 L265.34 428.8 L266.47 429.75 L267.55 430.71 L268.53 431.66 L269.42 432.61 L270.19 433.57 L270.82 434.52 L271.3 435.47 L271.62 436.43 L271.78 437.38 L271.77 438.33 L271.59 439.29 L271.25 440.24 L270.75 441.19 L270.1 442.15 L269.32 443.1 L268.42 444.05 L267.42 445.01 L266.34 445.96 L265.2 446.91 L264.01 447.87 L262.81 448.82 L261.6 449.77 L260.4 450.73 L259.23 451.68 L258.1 452.63 L257.02 453.59 L256 454.54 L255.05 455.49 L254.18 456.45 L253.38 457.4" fill="none" stroke="#1e1e1e" stroke-width="0.75"/>
<rect x="44.7" y="274.3" width="239.8" height="193.4" fill="none" stroke="#383838" stroke-width="1.1"/>
<path d="M41.1 283.5H44.7" stroke="#383838" stroke-width="1"/>
<text x="37.9" y="286.35" font-size="7.9" text-anchor="end" fill="#000" stroke="#000" stroke-width="0.22">2000</text>
<path d="M41.1 320.38H44.7" stroke="#383838" stroke-width="1"/>
<text x="37.9" y="323.23" font-size="7.9" text-anchor="end" fill="#000" stroke="#000" stroke-width="0.22">1800</text>
<path d="M41.1 357.26H44.7" stroke="#383838" stroke-width="1"/>
<text x="37.9" y="360.11" font-size="7.9" text-anchor="end" fill="#000" stroke="#000" stroke-width="0.22">1600</text>
<path d="M41.1 394.14H44.7" stroke="#383838" stroke-width="1"/>
<text x="37.9" y="396.99" font-size="7.9" text-anchor="end" fill="#000" stroke="#000" stroke-width="0.22">1400</text>
<path d="M41.1 431.02H44.7" stroke="#383838" stroke-width="1"/>
<text x="37.9" y="433.87" font-size="7.9" text-anchor="end" fill="#000" stroke="#000" stroke-width="0.22">1200</text>
<path d="M41.1 467.9H44.7" stroke="#383838" stroke-width="1"/>
<text x="37.9" y="470.75" font-size="7.9" text-anchor="end" fill="#000" stroke="#000" stroke-width="0.22">1000</text>
<path d="M42.7 301.94H44.7" stroke="#383838" stroke-width="0.9"/>
<path d="M42.7 338.82H44.7" stroke="#383838" stroke-width="0.9"/>
<path d="M42.7 375.7H44.7" stroke="#383838" stroke-width="0.9"/>
<path d="M42.7 412.58H44.7" stroke="#383838" stroke-width="0.9"/>
<path d="M42.7 449.46H44.7" stroke="#383838" stroke-width="0.9"/>
<path d="M104.65 467.7V471.9" stroke="#383838" stroke-width="1"/>
<text x="104.65" y="481" font-size="8.3" text-anchor="middle" fill="#000" stroke="#000" stroke-width="0.22">Dry</text>
<path d="M224.55 467.7V471.9" stroke="#383838" stroke-width="1"/>
<text x="224.55" y="481" font-size="8.3" text-anchor="middle" fill="#000" stroke="#000" stroke-width="0.22">Wet</text>
<text transform="translate(15.7 372.6) rotate(-90)" font-size="10" text-anchor="middle" fill="#000" stroke="#000" stroke-width="0.2">TDS (mg.L<tspan font-size="6" dy="-3.6">-1</tspan><tspan dy="3.6">)</tspan></text>
<g clip-path="url(#cl)">
<text x="285.8" y="396.9" font-size="10" fill="#000" stroke="#000" stroke-width="0.15">Legend</text>
<path d="M286.5 399.9V468.2" stroke="#555" stroke-width="0.8" fill="none"/>
<path d="M286.1 468.3H354.5" stroke="#6a6a6a" stroke-width="0.9"/>
<text x="299.9" y="405.5" font-size="4.9" fill="#000" stroke="#000" stroke-width="0.12">Dry Period</text>
<text x="299.9" y="411.6" font-size="4.9" fill="#000" stroke="#000" stroke-width="0.12">Wet Period</text>
<text x="299.9" y="417.7" font-size="4.9" fill="#000" stroke="#000" stroke-width="0.12">Groundwater</text>
<text x="299.9" y="423.8" font-size="4.9" fill="#000" stroke="#000" stroke-width="0.12">Samples</text>
<text x="298.3" y="429.9" font-size="4.9" fill="#000" stroke="#000" stroke-width="0.12">FAO Guideline</text>
<text x="299.9" y="436" font-size="4.9" fill="#000" stroke="#000" stroke-width="0.12">Range within</text>
<text x="299.9" y="442.1" font-size="4.9" fill="#000" stroke="#000" stroke-width="0.12">1.5IQR</text>
<text x="299.9" y="448.2" font-size="4.9" fill="#000" stroke="#000" stroke-width="0.12">Median</text>
<text x="299.9" y="454.3" font-size="4.9" fill="#000" stroke="#000" stroke-width="0.12">Max</text>
<text x="299.9" y="460.4" font-size="4.9" fill="#000" stroke="#000" stroke-width="0.12">Mean</text>
<text x="299.9" y="466.5" font-size="4.9" fill="#000" stroke="#000" stroke-width="0.12">Min</text>
<rect x="287.7" y="401" width="10.6" height="5" fill="#800000" stroke="#3a0000" stroke-width="0.6"/>
<rect x="287.7" y="407.1" width="10.6" height="5" fill="#0000ff" stroke="#00006a" stroke-width="0.6"/>
<path d="M292.9 414.2l1.5 1.5l-1.5 1.5l-1.5 -1.5z" fill="#0000ff"/>
<path d="M289.5 427.9h6.6" stroke="#ff4040" stroke-width="0.8"/>
<path d="M292.9 431.3v5.4M291.1 431.3h3.6M291.1 436.7h3.6" stroke="#444" stroke-width="0.7" fill="none"/>
<path d="M289.3 446.2h7" stroke="#444" stroke-width="0.8"/>
<path d="M291.9 452.3h2" stroke="#333" stroke-width="0.7"/>
<rect x="292.2" y="457.7" width="1.4" height="1.4" fill="none" stroke="#333" stroke-width="0.5"/>
<path d="M291.9 464.5h2" stroke="#555" stroke-width="0.6"/>
</g>
<text x="152" y="527.75" font-family="'Liberation Serif', serif" font-weight="bold" text-anchor="middle" letter-spacing="0.6" fill="#0a0a0a"><tspan font-size="16">(</tspan><tspan font-size="18" dy="1.6">c</tspan><tspan font-size="16" dy="-1.6">)</tspan></text>
</g>
<g>
<path d="M396.9 371.09H637.5" stroke="#ff6a6a" stroke-width="1.0"/>
<path d="M432.95 352.22V426.28M426.95 352.22H438.95M426.95 426.28H438.95" stroke="#3c3c3c" stroke-width="0.95" fill="none"/>
<rect x="410.3" y="379.27" width="45.3" height="24.47" fill="#800000" stroke="#300000" stroke-width="0.8"/>
<path d="M410.3 390.86H455.6" stroke="#101010" stroke-width="0.65"/>
<rect x="432.45" y="388.43" width="1" height="1" fill="#300000" opacity="0.8"/>
<path d="M553.2 329.68V396.34M547.2 329.68H559.2M547.2 396.34H559.2" stroke="#808080" stroke-width="1.25" fill="none"/>
<rect x="530.3" y="353.51" width="45.8" height="23.18" fill="#0000ff" stroke="#000070" stroke-width="0.8"/>
<path d="M530.3 362.21H576.1" stroke="#101010" stroke-width="0.65"/>
<rect x="552.7" y="362.99" width="1" height="1" fill="#000070" opacity="0.8"/>
<rect x="432.5" y="320.4" width="1" height="0.8" fill="#555"/>
<path d="M472.9 371.57l1.7 1.7l-1.7 1.7l-1.7 -1.7z" fill="#0000ff"/>
<path d="M475.41 373.33l1.7 1.7l-1.7 1.7l-1.7 -1.7z" fill="#0000ff"/>
<path d="M481.69 371.57l1.7 1.7l-1.7 1.7l-1.7 -1.7z" fill="#0000ff"/>
<path d="M488.23 371.57l1.7 1.7l-1.7 1.7l-1.7 -1.7z" fill="#0000ff"/>
<path d="M477.42 377.09l1.7 1.7l-1.7 1.7l-1.7 -1.7z" fill="#0000ff"/>
<path d="M480.69 378.35l1.7 1.7l-1.7 1.7l-1.7 -1.7z" fill="#0000ff"/>
<path d="M478.68 379.61l1.7 1.7l-1.7 1.7l-1.7 -1.7z" fill="#0000ff"/>
<path d="M486.22 380.86l1.7 1.7l-1.7 1.7l-1.7 -1.7z" fill="#0000ff"/>
<path d="M476.92 382.12l1.7 1.7l-1.7 1.7l-1.7 -1.7z" fill="#0000ff"/>
<path d="M480.44 383.88l1.7 1.7l-1.7 1.7l-1.7 -1.7z" fill="#0000ff"/>
<path d="M481.69 385.39l1.7 1.7l-1.7 1.7l-1.7 -1.7z" fill="#0000ff"/>
<path d="M479.43 386.39l1.7 1.7l-1.7 1.7l-1.7 -1.7z" fill="#0000ff"/>
<path d="M478.93 389.15l1.7 1.7l-1.7 1.7l-1.7 -1.7z" fill="#0000ff"/>
<path d="M481.94 392.67l1.7 1.7l-1.7 1.7l-1.7 -1.7z" fill="#0000ff"/>
<path d="M479.93 393.43l1.7 1.7l-1.7 1.7l-1.7 -1.7z" fill="#0000ff"/>
<path d="M483.2 394.68l1.7 1.7l-1.7 1.7l-1.7 -1.7z" fill="#0000ff"/>
<path d="M481.94 395.94l1.7 1.7l-1.7 1.7l-1.7 -1.7z" fill="#0000ff"/>
<path d="M488.23 397.19l1.7 1.7l-1.7 1.7l-1.7 -1.7z" fill="#0000ff"/>
<path d="M477.42 399.71l1.7 1.7l-1.7 1.7l-1.7 -1.7z" fill="#0000ff"/>
<path d="M478.68 400.96l1.7 1.7l-1.7 1.7l-1.7 -1.7z" fill="#0000ff"/>
<path d="M483.2 400.96l1.7 1.7l-1.7 1.7l-1.7 -1.7z" fill="#0000ff"/>
<path d="M476.92 403.48l1.7 1.7l-1.7 1.7l-1.7 -1.7z" fill="#0000ff"/>
<path d="M483.7 405.99l1.7 1.7l-1.7 1.7l-1.7 -1.7z" fill="#0000ff"/>
<path d="M475.41 411.01l1.7 1.7l-1.7 1.7l-1.7 -1.7z" fill="#0000ff"/>
<path d="M479.43 415.54l1.7 1.7l-1.7 1.7l-1.7 -1.7z" fill="#0000ff"/>
<path d="M484.46 418.05l1.7 1.7l-1.7 1.7l-1.7 -1.7z" fill="#0000ff"/>
<path d="M473.4 422.57l1.7 1.7l-1.7 1.7l-1.7 -1.7z" fill="#0000ff"/>
<path d="M482.95 421.57l1.7 1.7l-1.7 1.7l-1.7 -1.7z" fill="#0000ff"/>
<path d="M483.2 424.08l1.7 1.7l-1.7 1.7l-1.7 -1.7z" fill="#0000ff"/>
<path d="M479.43 319.08l1.7 1.7l-1.7 1.7l-1.7 -1.7z" fill="#0000ff"/>
<path d="M486.97 338.93l1.7 1.7l-1.7 1.7l-1.7 -1.7z" fill="#0000ff"/>
<path d="M485.46 350.74l1.7 1.7l-1.7 1.7l-1.7 -1.7z" fill="#0000ff"/>
<path d="M480.19 363.05l1.7 1.7l-1.7 1.7l-1.7 -1.7z" fill="#0000ff"/>
<path d="M483.2 364.56l1.7 1.7l-1.7 1.7l-1.7 -1.7z" fill="#0000ff"/>
<path d="M599.93 307.77l1.7 1.7l-1.7 1.7l-1.7 -1.7z" fill="#0000ff"/>
<path d="M605.21 328.12l1.7 1.7l-1.7 1.7l-1.7 -1.7z" fill="#0000ff"/>
<path d="M598.93 331.14l1.7 1.7l-1.7 1.7l-1.7 -1.7z" fill="#0000ff"/>
<path d="M603.95 332.4l1.7 1.7l-1.7 1.7l-1.7 -1.7z" fill="#0000ff"/>
<path d="M603.45 339.18l1.7 1.7l-1.7 1.7l-1.7 -1.7z" fill="#0000ff"/>
<path d="M600.19 342.95l1.7 1.7l-1.7 1.7l-1.7 -1.7z" fill="#0000ff"/>
<path d="M596.67 351.24l1.7 1.7l-1.7 1.7l-1.7 -1.7z" fill="#0000ff"/>
<path d="M599.18 349.98l1.7 1.7l-1.7 1.7l-1.7 -1.7z" fill="#0000ff"/>
<path d="M601.44 350.74l1.7 1.7l-1.7 1.7l-1.7 -1.7z" fill="#0000ff"/>
<path d="M603.45 351.99l1.7 1.7l-1.7 1.7l-1.7 -1.7z" fill="#0000ff"/>
<path d="M595.91 357.52l1.7 1.7l-1.7 1.7l-1.7 -1.7z" fill="#0000ff"/>
<path d="M597.92 359.53l1.7 1.7l-1.7 1.7l-1.7 -1.7z" fill="#0000ff"/>
<path d="M600.94 360.03l1.7 1.7l-1.7 1.7l-1.7 -1.7z" fill="#0000ff"/>
<path d="M602.95 359.53l1.7 1.7l-1.7 1.7l-1.7 -1.7z" fill="#0000ff"/>
<path d="M610.99 358.02l1.7 1.7l-1.7 1.7l-1.7 -1.7z" fill="#0000ff"/>
<path d="M605.96 361.29l1.7 1.7l-1.7 1.7l-1.7 -1.7z" fill="#0000ff"/>
<path d="M597.17 362.55l1.7 1.7l-1.7 1.7l-1.7 -1.7z" fill="#0000ff"/>
<path d="M600.19 365.06l1.7 1.7l-1.7 1.7l-1.7 -1.7z" fill="#0000ff"/>
<path d="M603.45 366.32l1.7 1.7l-1.7 1.7l-1.7 -1.7z" fill="#0000ff"/>
<path d="M604.71 365.81l1.7 1.7l-1.7 1.7l-1.7 -1.7z" fill="#0000ff"/>
<path d="M592.65 368.83l1.7 1.7l-1.7 1.7l-1.7 -1.7z" fill="#0000ff"/>
<path d="M598.43 368.33l1.7 1.7l-1.7 1.7l-1.7 -1.7z" fill="#0000ff"/>
<path d="M599.68 371.84l1.7 1.7l-1.7 1.7l-1.7 -1.7z" fill="#0000ff"/>
<path d="M602.95 372.6l1.7 1.7l-1.7 1.7l-1.7 -1.7z" fill="#0000ff"/>
<path d="M607.97 375.61l1.7 1.7l-1.7 1.7l-1.7 -1.7z" fill="#0000ff"/>
<path d="M598.43 377.62l1.7 1.7l-1.7 1.7l-1.7 -1.7z" fill="#0000ff"/>
<path d="M595.91 385.16l1.7 1.7l-1.7 1.7l-1.7 -1.7z" fill="#0000ff"/>
<path d="M598.43 384.66l1.7 1.7l-1.7 1.7l-1.7 -1.7z" fill="#0000ff"/>
<path d="M600.94 386.42l1.7 1.7l-1.7 1.7l-1.7 -1.7z" fill="#0000ff"/>
<path d="M605.96 385.91l1.7 1.7l-1.7 1.7l-1.7 -1.7z" fill="#0000ff"/>
<path d="M599.18 388.93l1.7 1.7l-1.7 1.7l-1.7 -1.7z" fill="#0000ff"/>
<path d="M603.45 388.93l1.7 1.7l-1.7 1.7l-1.7 -1.7z" fill="#0000ff"/>
<path d="M598.43 392.7l1.7 1.7l-1.7 1.7l-1.7 -1.7z" fill="#0000ff"/>
<path d="M481.53 316.5 L481.58 318.48 L481.66 320.46 L481.75 322.44 L481.86 324.42 L481.99 326.4 L482.16 328.38 L482.35 330.36 L482.59 332.34 L482.87 334.32 L483.19 336.3 L483.57 338.28 L484.01 340.26 L484.51 342.24 L485.07 344.22 L485.71 346.2 L486.41 348.18 L487.19 350.16 L488.04 352.14 L488.95 354.12 L489.93 356.1 L490.97 358.08 L492.06 360.06 L493.18 362.04 L494.33 364.02 L495.48 366 L496.64 367.98 L497.77 369.96 L498.85 371.94 L499.88 373.92 L500.83 375.9 L501.68 377.88 L502.42 379.86 L503.03 381.84 L503.5 383.82 L503.82 385.8 L503.98 387.78 L503.98 389.76 L503.82 391.74 L503.51 393.72 L503.04 395.7 L502.44 397.68 L501.7 399.66 L500.85 401.64 L499.91 403.62 L498.88 405.6 L497.8 407.58 L496.67 409.56 L495.52 411.54 L494.36 413.52 L493.21 415.5 L492.09 417.48 L491 419.46 L489.96 421.44 L488.98 423.42 L488.06 425.4 L487.21 427.38 L486.43 429.36 L485.73 431.34 L485.09 433.32 L484.52 435.3" fill="none" stroke="#1e1e1e" stroke-width="0.75"/>
<path d="M601.4 306.5 L601.52 308.51 L601.67 310.53 L601.85 312.54 L602.09 314.55 L602.38 316.57 L602.74 318.58 L603.17 320.59 L603.68 322.61 L604.29 324.62 L604.98 326.63 L605.79 328.65 L606.69 330.66 L607.71 332.67 L608.82 334.69 L610.03 336.7 L611.32 338.71 L612.67 340.73 L614.07 342.74 L615.5 344.75 L616.91 346.77 L618.29 348.78 L619.59 350.79 L620.8 352.81 L621.86 354.82 L622.77 356.83 L623.48 358.85 L623.98 360.86 L624.25 362.87 L624.29 364.89 L624.09 366.9 L623.66 368.91 L623.01 370.93 L622.17 372.94 L621.15 374.95 L619.99 376.97 L618.71 378.98 L617.35 380.99 L615.95 383.01 L614.52 385.02 L613.11 387.03 L611.74 389.05 L610.43 391.06 L609.19 393.07 L608.05 395.09 L607 397.1 L606.06 399.11 L605.23 401.13 L604.5 403.14 L603.86 405.15 L603.32 407.17 L602.87 409.18 L602.49 411.19 L602.18 413.21 L601.92 415.22 L601.72 417.23 L601.56 419.25 L601.43 421.26 L601.33 423.27 L601.26 425.29 L601.2 427.3" fill="none" stroke="#1e1e1e" stroke-width="0.75"/>
<rect x="396.9" y="274.3" width="240.6" height="193.3" fill="none" stroke="#383838" stroke-width="1.1"/>
<path d="M393.3 274.3H396.9" stroke="#383838" stroke-width="1"/>
<text x="389.7" y="277.15" font-size="7.9" text-anchor="end" fill="#000" stroke="#000" stroke-width="0.22">60</text>
<path d="M393.3 338.7H396.9" stroke="#383838" stroke-width="1"/>
<text x="389.7" y="341.55" font-size="7.9" text-anchor="end" fill="#000" stroke="#000" stroke-width="0.22">40</text>
<path d="M393.3 403.1H396.9" stroke="#383838" stroke-width="1"/>
<text x="389.7" y="405.95" font-size="7.9" text-anchor="end" fill="#000" stroke="#000" stroke-width="0.22">20</text>
<path d="M393.3 467.5H396.9" stroke="#383838" stroke-width="1"/>
<text x="389.7" y="470.35" font-size="7.9" text-anchor="end" fill="#000" stroke="#000" stroke-width="0.22">0</text>
<path d="M394.9 306.5H396.9" stroke="#383838" stroke-width="0.9"/>
<path d="M394.9 370.9H396.9" stroke="#383838" stroke-width="0.9"/>
<path d="M394.9 435.3H396.9" stroke="#383838" stroke-width="0.9"/>
<path d="M457.05 467.6V471.8" stroke="#383838" stroke-width="1"/>
<text x="457.05" y="480.9" font-size="8.3" text-anchor="middle" fill="#000" stroke="#000" stroke-width="0.22">Dry</text>
<path d="M577.35 467.6V471.8" stroke="#383838" stroke-width="1"/>
<text x="577.35" y="480.9" font-size="8.3" text-anchor="middle" fill="#000" stroke="#000" stroke-width="0.22">Wet</text>
<text transform="translate(374.8 372.3) rotate(-90)" font-size="10" text-anchor="middle" fill="#000" stroke="#000" stroke-width="0.2">NO<tspan font-size="6" dy="2.2">3</tspan><tspan font-size="6" dy="-6.4">-</tspan><tspan dy="4.2">-N (mg.L</tspan><tspan font-size="6" dy="-3.6">-1</tspan><tspan dy="3.6">)</tspan></text>
<g clip-path="url(#cr)">
<text x="638.8" y="396.8" font-size="10" fill="#000" stroke="#000" stroke-width="0.15">Legend</text>
<path d="M639.3 399.8H707.5" stroke="#9a9a9a" stroke-width="0.8"/>
<path d="M639.5 399.8V468.1" stroke="#555" stroke-width="0.8" fill="none"/>
<text x="652.9" y="405.4" font-size="4.9" fill="#000" stroke="#000" stroke-width="0.12">Dry Period</text>
<text x="652.9" y="411.5" font-size="4.9" fill="#000" stroke="#000" stroke-width="0.12">Wet Period</text>
<text x="652.9" y="417.6" font-size="4.9" fill="#000" stroke="#000" stroke-width="0.12">Groundwater</text>
<text x="652.9" y="423.7" font-size="4.9" fill="#000" stroke="#000" stroke-width="0.12">Samples</text>
<text x="651.3" y="429.8" font-size="4.9" fill="#000" stroke="#000" stroke-width="0.12">FAO Guideline</text>
<text x="652.9" y="435.9" font-size="4.9" fill="#000" stroke="#000" stroke-width="0.12">Range within</text>
<text x="652.9" y="442" font-size="4.9" fill="#000" stroke="#000" stroke-width="0.12">1.5IQR</text>
<text x="652.9" y="448.1" font-size="4.9" fill="#000" stroke="#000" stroke-width="0.12">Median</text>
<text x="652.9" y="454.2" font-size="4.9" fill="#000" stroke="#000" stroke-width="0.12">Max</text>
<text x="652.9" y="460.3" font-size="4.9" fill="#000" stroke="#000" stroke-width="0.12">Mean</text>
<text x="652.9" y="466.4" font-size="4.9" fill="#000" stroke="#000" stroke-width="0.12">Min</text>
<rect x="640.7" y="400.9" width="10.6" height="5" fill="#800000" stroke="#3a0000" stroke-width="0.6"/>
<rect x="640.7" y="407" width="10.6" height="5" fill="#0000ff" stroke="#00006a" stroke-width="0.6"/>
<path d="M645.9 414.1l1.5 1.5l-1.5 1.5l-1.5 -1.5z" fill="#0000ff"/>
<path d="M642.5 427.8h6.6" stroke="#ff4040" stroke-width="0.8"/>
<path d="M645.9 431.2v5.4M644.1 431.2h3.6M644.1 436.6h3.6" stroke="#444" stroke-width="0.7" fill="none"/>
<path d="M642.3 446.1h7" stroke="#444" stroke-width="0.8"/>
<path d="M644.9 452.2h2" stroke="#333" stroke-width="0.7"/>
<rect x="645.2" y="457.6" width="1.4" height="1.4" fill="none" stroke="#333" stroke-width="0.5"/>
<path d="M644.9 464.4h2" stroke="#555" stroke-width="0.6"/>
</g>
<text x="507.3" y="527.75" font-family="'Liberation Serif', serif" font-weight="bold" text-anchor="middle" letter-spacing="0.6" fill="#0a0a0a"><tspan font-size="16">(</tspan><tspan font-size="16.6" dy="1.6">d</tspan><tspan font-size="16" dy="-1.6">)</tspan></text>
</g>
<g>
<path d="M41 673.37H281.5" stroke="#ff4848" stroke-width="0.9"/>
<path d="M77.4 657.34V711.4M71.4 657.34H83.4M71.4 711.4H83.4" stroke="#808080" stroke-width="1.25" fill="none"/>
<rect x="54.5" y="681.64" width="45.8" height="19.72" fill="#800000" stroke="#300000" stroke-width="0.8"/>
<path d="M54.5 693.26H100.3" stroke="#101010" stroke-width="0.65"/>
<rect x="76.9" y="688.36" width="1" height="1" fill="#300000" opacity="0.8"/>
<path d="M197.4 659.81V712.28M191.4 659.81H203.4M191.4 712.28H203.4" stroke="#3c3c3c" stroke-width="0.95" fill="none"/>
<rect x="174.3" y="685.16" width="46.2" height="17.79" fill="#0000ff" stroke="#000070" stroke-width="0.8"/>
<path d="M174.3 698.37H220.5" stroke="#101010" stroke-width="0.65"/>
<rect x="196.9" y="692.24" width="1" height="1" fill="#000070" opacity="0.8"/>
<path d="M120.6 572.27l1.7 1.7l-1.7 1.7l-1.7 -1.7z" fill="#0000ff"/>
<path d="M123.37 588.85l1.7 1.7l-1.7 1.7l-1.7 -1.7z" fill="#0000ff"/>
<path d="M122.61 624.53l1.7 1.7l-1.7 1.7l-1.7 -1.7z" fill="#0000ff"/>
<path d="M131.41 624.53l1.7 1.7l-1.7 1.7l-1.7 -1.7z" fill="#0000ff"/>
<path d="M117.59 628.3l1.7 1.7l-1.7 1.7l-1.7 -1.7z" fill="#0000ff"/>
<path d="M116.58 635.84l1.7 1.7l-1.7 1.7l-1.7 -1.7z" fill="#0000ff"/>
<path d="M127.39 637.35l1.7 1.7l-1.7 1.7l-1.7 -1.7z" fill="#0000ff"/>
<path d="M125.13 655.89l1.7 1.7l-1.7 1.7l-1.7 -1.7z" fill="#0000ff"/>
<path d="M124.37 668.95l1.7 1.7l-1.7 1.7l-1.7 -1.7z" fill="#0000ff"/>
<path d="M118.84 679.25l1.7 1.7l-1.7 1.7l-1.7 -1.7z" fill="#0000ff"/>
<path d="M122.36 682.27l1.7 1.7l-1.7 1.7l-1.7 -1.7z" fill="#0000ff"/>
<path d="M126.88 684.78l1.7 1.7l-1.7 1.7l-1.7 -1.7z" fill="#0000ff"/>
<path d="M124.87 686.79l1.7 1.7l-1.7 1.7l-1.7 -1.7z" fill="#0000ff"/>
<path d="M131.91 686.79l1.7 1.7l-1.7 1.7l-1.7 -1.7z" fill="#0000ff"/>
<path d="M120.1 689.81l1.7 1.7l-1.7 1.7l-1.7 -1.7z" fill="#0000ff"/>
<path d="M123.12 689.81l1.7 1.7l-1.7 1.7l-1.7 -1.7z" fill="#0000ff"/>
<path d="M128.89 688.55l1.7 1.7l-1.7 1.7l-1.7 -1.7z" fill="#0000ff"/>
<path d="M132.41 689.31l1.7 1.7l-1.7 1.7l-1.7 -1.7z" fill="#0000ff"/>
<path d="M126.38 691.06l1.7 1.7l-1.7 1.7l-1.7 -1.7z" fill="#0000ff"/>
<path d="M128.64 692.32l1.7 1.7l-1.7 1.7l-1.7 -1.7z" fill="#0000ff"/>
<path d="M124.87 694.08l1.7 1.7l-1.7 1.7l-1.7 -1.7z" fill="#0000ff"/>
<path d="M127.39 695.59l1.7 1.7l-1.7 1.7l-1.7 -1.7z" fill="#0000ff"/>
<path d="M123.87 696.59l1.7 1.7l-1.7 1.7l-1.7 -1.7z" fill="#0000ff"/>
<path d="M126.38 697.85l1.7 1.7l-1.7 1.7l-1.7 -1.7z" fill="#0000ff"/>
<path d="M129.9 699.36l1.7 1.7l-1.7 1.7l-1.7 -1.7z" fill="#0000ff"/>
<path d="M120.6 701.62l1.7 1.7l-1.7 1.7l-1.7 -1.7z" fill="#0000ff"/>
<path d="M120.6 704.88l1.7 1.7l-1.7 1.7l-1.7 -1.7z" fill="#0000ff"/>
<path d="M123.87 704.88l1.7 1.7l-1.7 1.7l-1.7 -1.7z" fill="#0000ff"/>
<path d="M125.63 707.4l1.7 1.7l-1.7 1.7l-1.7 -1.7z" fill="#0000ff"/>
<path d="M122.36 708.65l1.7 1.7l-1.7 1.7l-1.7 -1.7z" fill="#0000ff"/>
<path d="M124.37 709.41l1.7 1.7l-1.7 1.7l-1.7 -1.7z" fill="#0000ff"/>
<path d="M122.36 710.41l1.7 1.7l-1.7 1.7l-1.7 -1.7z" fill="#0000ff"/>
<path d="M244.37 638.3l1.7 1.7l-1.7 1.7l-1.7 -1.7z" fill="#0000ff"/>
<path d="M244.12 658.15l1.7 1.7l-1.7 1.7l-1.7 -1.7z" fill="#0000ff"/>
<path d="M247.39 660.91l1.7 1.7l-1.7 1.7l-1.7 -1.7z" fill="#0000ff"/>
<path d="M239.85 670.96l1.7 1.7l-1.7 1.7l-1.7 -1.7z" fill="#0000ff"/>
<path d="M236.08 673.98l1.7 1.7l-1.7 1.7l-1.7 -1.7z" fill="#0000ff"/>
<path d="M242.86 675.99l1.7 1.7l-1.7 1.7l-1.7 -1.7z" fill="#0000ff"/>
<path d="M247.89 675.23l1.7 1.7l-1.7 1.7l-1.7 -1.7z" fill="#0000ff"/>
<path d="M249.4 676.49l1.7 1.7l-1.7 1.7l-1.7 -1.7z" fill="#0000ff"/>
<path d="M244.12 683.02l1.7 1.7l-1.7 1.7l-1.7 -1.7z" fill="#0000ff"/>
<path d="M249.65 683.02l1.7 1.7l-1.7 1.7l-1.7 -1.7z" fill="#0000ff"/>
<path d="M242.86 686.04l1.7 1.7l-1.7 1.7l-1.7 -1.7z" fill="#0000ff"/>
<path d="M244.62 691.57l1.7 1.7l-1.7 1.7l-1.7 -1.7z" fill="#0000ff"/>
<path d="M247.89 691.57l1.7 1.7l-1.7 1.7l-1.7 -1.7z" fill="#0000ff"/>
<path d="M250.4 692.32l1.7 1.7l-1.7 1.7l-1.7 -1.7z" fill="#0000ff"/>
<path d="M239.1 695.34l1.7 1.7l-1.7 1.7l-1.7 -1.7z" fill="#0000ff"/>
<path d="M242.86 694.83l1.7 1.7l-1.7 1.7l-1.7 -1.7z" fill="#0000ff"/>
<path d="M246.13 695.59l1.7 1.7l-1.7 1.7l-1.7 -1.7z" fill="#0000ff"/>
<path d="M244.62 697.85l1.7 1.7l-1.7 1.7l-1.7 -1.7z" fill="#0000ff"/>
<path d="M242.11 699.1l1.7 1.7l-1.7 1.7l-1.7 -1.7z" fill="#0000ff"/>
<path d="M247.89 698.1l1.7 1.7l-1.7 1.7l-1.7 -1.7z" fill="#0000ff"/>
<path d="M255.43 699.36l1.7 1.7l-1.7 1.7l-1.7 -1.7z" fill="#0000ff"/>
<path d="M241.11 701.11l1.7 1.7l-1.7 1.7l-1.7 -1.7z" fill="#0000ff"/>
<path d="M243.62 701.11l1.7 1.7l-1.7 1.7l-1.7 -1.7z" fill="#0000ff"/>
<path d="M249.65 701.62l1.7 1.7l-1.7 1.7l-1.7 -1.7z" fill="#0000ff"/>
<path d="M240.35 703.12l1.7 1.7l-1.7 1.7l-1.7 -1.7z" fill="#0000ff"/>
<path d="M245.38 704.88l1.7 1.7l-1.7 1.7l-1.7 -1.7z" fill="#0000ff"/>
<path d="M247.14 706.14l1.7 1.7l-1.7 1.7l-1.7 -1.7z" fill="#0000ff"/>
<path d="M242.86 708.65l1.7 1.7l-1.7 1.7l-1.7 -1.7z" fill="#0000ff"/>
<path d="M246.13 709.41l1.7 1.7l-1.7 1.7l-1.7 -1.7z" fill="#0000ff"/>
<path d="M251.66 709.91l1.7 1.7l-1.7 1.7l-1.7 -1.7z" fill="#0000ff"/>
<path d="M247.89 711.16l1.7 1.7l-1.7 1.7l-1.7 -1.7z" fill="#0000ff"/>
<path d="M126.03 572.2 L126.06 574.62 L126.1 577.04 L126.15 579.46 L126.21 581.88 L126.28 584.3 L126.36 586.72 L126.47 589.14 L126.59 591.56 L126.73 593.98 L126.9 596.4 L127.1 598.82 L127.33 601.24 L127.59 603.66 L127.89 606.08 L128.23 608.5 L128.62 610.92 L129.06 613.34 L129.54 615.76 L130.08 618.18 L130.67 620.6 L131.31 623.02 L132.01 625.44 L132.77 627.86 L133.57 630.28 L134.42 632.7 L135.32 635.12 L136.26 637.54 L137.23 639.96 L138.22 642.38 L139.23 644.8 L140.24 647.22 L141.25 649.64 L142.24 652.06 L143.2 654.48 L144.12 656.9 L144.99 659.32 L145.79 661.74 L146.51 664.16 L147.14 666.58 L147.68 669 L148.11 671.42 L148.42 673.84 L148.62 676.26 L148.7 678.68 L148.65 681.1 L148.49 683.52 L148.2 685.94 L147.8 688.36 L147.29 690.78 L146.68 693.2 L145.99 695.62 L145.21 698.04 L144.36 700.46 L143.45 702.88 L142.5 705.3 L141.51 707.72 L140.51 710.14 L139.5 712.56 L138.49 714.98 L137.49 717.4" fill="none" stroke="#1e1e1e" stroke-width="0.75"/>
<path d="M243.99 639.2 L244.04 640.5 L244.1 641.8 L244.17 643.1 L244.25 644.39 L244.35 645.69 L244.47 646.99 L244.62 648.29 L244.79 649.59 L244.99 650.88 L245.23 652.18 L245.5 653.48 L245.82 654.78 L246.18 656.08 L246.59 657.38 L247.06 658.68 L247.58 659.97 L248.16 661.27 L248.81 662.57 L249.51 663.87 L250.28 665.17 L251.11 666.47 L252 667.76 L252.95 669.06 L253.94 670.36 L254.99 671.66 L256.07 672.96 L257.17 674.25 L258.3 675.55 L259.43 676.85 L260.55 678.15 L261.65 679.45 L262.72 680.75 L263.73 682.05 L264.69 683.34 L265.56 684.64 L266.34 685.94 L267.01 687.24 L267.57 688.54 L268 689.84 L268.3 691.13 L268.47 692.43 L268.49 693.73 L268.38 695.03 L268.12 696.33 L267.73 697.62 L267.21 698.92 L266.58 700.22 L265.83 701.52 L264.99 702.82 L264.06 704.12 L263.07 705.41 L262.02 706.71 L260.93 708.01 L259.81 709.31 L258.68 710.61 L257.55 711.91 L256.44 713.21 L255.35 714.5 L254.29 715.8 L253.28 717.1" fill="none" stroke="#1e1e1e" stroke-width="0.75"/>
<rect x="41" y="541.3" width="240.5" height="193.7" fill="none" stroke="#383838" stroke-width="1.1"/>
<path d="M37.4 558.9H41" stroke="#383838" stroke-width="1"/>
<text x="33.8" y="561.75" font-size="7.9" text-anchor="end" fill="#000" stroke="#000" stroke-width="0.22">1000</text>
<path d="M37.4 594.12H41" stroke="#383838" stroke-width="1"/>
<text x="33.8" y="596.97" font-size="7.9" text-anchor="end" fill="#000" stroke="#000" stroke-width="0.22">800</text>
<path d="M37.4 629.34H41" stroke="#383838" stroke-width="1"/>
<text x="33.8" y="632.19" font-size="7.9" text-anchor="end" fill="#000" stroke="#000" stroke-width="0.22">600</text>
<path d="M37.4 664.56H41" stroke="#383838" stroke-width="1"/>
<text x="33.8" y="667.41" font-size="7.9" text-anchor="end" fill="#000" stroke="#000" stroke-width="0.22">400</text>
<path d="M37.4 699.78H41" stroke="#383838" stroke-width="1"/>
<text x="33.8" y="702.63" font-size="7.9" text-anchor="end" fill="#000" stroke="#000" stroke-width="0.22">200</text>
<path d="M37.4 735H41" stroke="#383838" stroke-width="1"/>
<text x="33.8" y="737.85" font-size="7.9" text-anchor="end" fill="#000" stroke="#000" stroke-width="0.22">0</text>
<path d="M39 576.51H41" stroke="#383838" stroke-width="0.9"/>
<path d="M39 611.73H41" stroke="#383838" stroke-width="0.9"/>
<path d="M39 646.95H41" stroke="#383838" stroke-width="0.9"/>
<path d="M39 682.17H41" stroke="#383838" stroke-width="0.9"/>
<path d="M39 717.39H41" stroke="#383838" stroke-width="0.9"/>
<path d="M101.12 735V739.2" stroke="#383838" stroke-width="1"/>
<text x="101.12" y="748.3" font-size="8.3" text-anchor="middle" fill="#000" stroke="#000" stroke-width="0.22">Dry</text>
<path d="M221.38 735V739.2" stroke="#383838" stroke-width="1"/>
<text x="221.38" y="748.3" font-size="8.3" text-anchor="middle" fill="#000" stroke="#000" stroke-width="0.22">Wet</text>
<text transform="translate(12.2 639.3) rotate(-90)" font-size="10" text-anchor="middle" fill="#000" stroke="#000" stroke-width="0.2">Cl<tspan font-size="6" dy="-3.6">-</tspan><tspan dy="3.6"> (mg.L</tspan><tspan font-size="6" dy="-3.6">-1</tspan><tspan dy="3.6">)</tspan></text>
<g clip-path="url(#cl)">
<text x="282.8" y="664.2" font-size="10" fill="#000" stroke="#000" stroke-width="0.15">Legend</text>
<path d="M283.3 667.2H351.5" stroke="#9a9a9a" stroke-width="0.8"/>
<path d="M283.5 667.2V735.5" stroke="#555" stroke-width="0.8" fill="none"/>
<text x="296.9" y="672.8" font-size="4.9" fill="#000" stroke="#000" stroke-width="0.12">Dry Period</text>
<text x="296.9" y="678.9" font-size="4.9" fill="#000" stroke="#000" stroke-width="0.12">Wet Period</text>
<text x="296.9" y="685" font-size="4.9" fill="#000" stroke="#000" stroke-width="0.12">Groundwater</text>
<text x="296.9" y="691.1" font-size="4.9" fill="#000" stroke="#000" stroke-width="0.12">Samples</text>
<text x="295.3" y="697.2" font-size="4.9" fill="#000" stroke="#000" stroke-width="0.12">FAO Guideline</text>
<text x="296.9" y="703.3" font-size="4.9" fill="#000" stroke="#000" stroke-width="0.12">Range within</text>
<text x="296.9" y="709.4" font-size="4.9" fill="#000" stroke="#000" stroke-width="0.12">1.5IQR</text>
<text x="296.9" y="715.5" font-size="4.9" fill="#000" stroke="#000" stroke-width="0.12">Median</text>
<text x="296.9" y="721.6" font-size="4.9" fill="#000" stroke="#000" stroke-width="0.12">Max</text>
<text x="296.9" y="727.7" font-size="4.9" fill="#000" stroke="#000" stroke-width="0.12">Mean</text>
<text x="296.9" y="733.8" font-size="4.9" fill="#000" stroke="#000" stroke-width="0.12">Min</text>
<rect x="284.7" y="668.3" width="10.6" height="5" fill="#800000" stroke="#3a0000" stroke-width="0.6"/>
<rect x="284.7" y="674.4" width="10.6" height="5" fill="#0000ff" stroke="#00006a" stroke-width="0.6"/>
<path d="M289.9 681.5l1.5 1.5l-1.5 1.5l-1.5 -1.5z" fill="#0000ff"/>
<path d="M286.5 695.2h6.6" stroke="#ff4040" stroke-width="0.8"/>
<path d="M289.9 698.6v5.4M288.1 698.6h3.6M288.1 704h3.6" stroke="#444" stroke-width="0.7" fill="none"/>
<path d="M286.3 713.5h7" stroke="#444" stroke-width="0.8"/>
<path d="M288.9 719.6h2" stroke="#333" stroke-width="0.7"/>
<rect x="289.2" y="725" width="1.4" height="1.4" fill="none" stroke="#333" stroke-width="0.5"/>
<path d="M288.9 731.8h2" stroke="#555" stroke-width="0.6"/>
</g>
<text x="152.2" y="771.4" font-family="'Liberation Serif', serif" font-weight="bold" text-anchor="middle" letter-spacing="0.6" fill="#0a0a0a"><tspan font-size="16">(</tspan><tspan font-size="18" dy="1.6">e</tspan><tspan font-size="16" dy="-1.6">)</tspan></text>
</g>
<g>
<path d="M396.8 674.12H637.5" stroke="#ff8c8c" stroke-width="1.25"/>
<path d="M433.2 657.74V711.8M427.2 657.74H439.2M427.2 711.8H439.2" stroke="#808080" stroke-width="1.25" fill="none"/>
<rect x="410.3" y="682.04" width="45.8" height="19.72" fill="#800000" stroke="#300000" stroke-width="0.8"/>
<path d="M410.3 693.66H456.1" stroke="#101010" stroke-width="0.65"/>
<rect x="432.7" y="688.76" width="1" height="1" fill="#300000" opacity="0.8"/>
<path d="M553.2 660.21V712.68M547.2 660.21H559.2M547.2 712.68H559.2" stroke="#808080" stroke-width="1.25" fill="none"/>
<rect x="530.1" y="685.56" width="46.2" height="17.79" fill="#0000ff" stroke="#000070" stroke-width="0.8"/>
<path d="M530.1 698.77H576.3" stroke="#101010" stroke-width="0.65"/>
<rect x="552.7" y="692.64" width="1" height="1" fill="#000070" opacity="0.8"/>
<path d="M476.4 572.67l1.7 1.7l-1.7 1.7l-1.7 -1.7z" fill="#0000ff"/>
<path d="M479.17 589.25l1.7 1.7l-1.7 1.7l-1.7 -1.7z" fill="#0000ff"/>
<path d="M478.41 624.93l1.7 1.7l-1.7 1.7l-1.7 -1.7z" fill="#0000ff"/>
<path d="M487.21 624.93l1.7 1.7l-1.7 1.7l-1.7 -1.7z" fill="#0000ff"/>
<path d="M473.39 628.7l1.7 1.7l-1.7 1.7l-1.7 -1.7z" fill="#0000ff"/>
<path d="M472.38 636.24l1.7 1.7l-1.7 1.7l-1.7 -1.7z" fill="#0000ff"/>
<path d="M483.19 637.75l1.7 1.7l-1.7 1.7l-1.7 -1.7z" fill="#0000ff"/>
<path d="M480.93 656.29l1.7 1.7l-1.7 1.7l-1.7 -1.7z" fill="#0000ff"/>
<path d="M480.17 669.35l1.7 1.7l-1.7 1.7l-1.7 -1.7z" fill="#0000ff"/>
<path d="M474.64 679.65l1.7 1.7l-1.7 1.7l-1.7 -1.7z" fill="#0000ff"/>
<path d="M478.16 682.67l1.7 1.7l-1.7 1.7l-1.7 -1.7z" fill="#0000ff"/>
<path d="M482.68 685.18l1.7 1.7l-1.7 1.7l-1.7 -1.7z" fill="#0000ff"/>
<path d="M480.67 687.19l1.7 1.7l-1.7 1.7l-1.7 -1.7z" fill="#0000ff"/>
<path d="M487.71 687.19l1.7 1.7l-1.7 1.7l-1.7 -1.7z" fill="#0000ff"/>
<path d="M475.9 690.21l1.7 1.7l-1.7 1.7l-1.7 -1.7z" fill="#0000ff"/>
<path d="M478.92 690.21l1.7 1.7l-1.7 1.7l-1.7 -1.7z" fill="#0000ff"/>
<path d="M484.69 688.95l1.7 1.7l-1.7 1.7l-1.7 -1.7z" fill="#0000ff"/>
<path d="M488.21 689.71l1.7 1.7l-1.7 1.7l-1.7 -1.7z" fill="#0000ff"/>
<path d="M482.18 691.46l1.7 1.7l-1.7 1.7l-1.7 -1.7z" fill="#0000ff"/>
<path d="M484.44 692.72l1.7 1.7l-1.7 1.7l-1.7 -1.7z" fill="#0000ff"/>
<path d="M480.67 694.48l1.7 1.7l-1.7 1.7l-1.7 -1.7z" fill="#0000ff"/>
<path d="M483.19 695.99l1.7 1.7l-1.7 1.7l-1.7 -1.7z" fill="#0000ff"/>
<path d="M479.67 696.99l1.7 1.7l-1.7 1.7l-1.7 -1.7z" fill="#0000ff"/>
<path d="M482.18 698.25l1.7 1.7l-1.7 1.7l-1.7 -1.7z" fill="#0000ff"/>
<path d="M485.7 699.76l1.7 1.7l-1.7 1.7l-1.7 -1.7z" fill="#0000ff"/>
<path d="M476.4 702.02l1.7 1.7l-1.7 1.7l-1.7 -1.7z" fill="#0000ff"/>
<path d="M476.4 705.28l1.7 1.7l-1.7 1.7l-1.7 -1.7z" fill="#0000ff"/>
<path d="M479.67 705.28l1.7 1.7l-1.7 1.7l-1.7 -1.7z" fill="#0000ff"/>
<path d="M481.43 707.8l1.7 1.7l-1.7 1.7l-1.7 -1.7z" fill="#0000ff"/>
<path d="M478.16 709.05l1.7 1.7l-1.7 1.7l-1.7 -1.7z" fill="#0000ff"/>
<path d="M480.17 709.81l1.7 1.7l-1.7 1.7l-1.7 -1.7z" fill="#0000ff"/>
<path d="M478.16 710.81l1.7 1.7l-1.7 1.7l-1.7 -1.7z" fill="#0000ff"/>
<path d="M600.17 638.7l1.7 1.7l-1.7 1.7l-1.7 -1.7z" fill="#0000ff"/>
<path d="M599.92 658.55l1.7 1.7l-1.7 1.7l-1.7 -1.7z" fill="#0000ff"/>
<path d="M603.19 661.31l1.7 1.7l-1.7 1.7l-1.7 -1.7z" fill="#0000ff"/>
<path d="M595.65 671.36l1.7 1.7l-1.7 1.7l-1.7 -1.7z" fill="#0000ff"/>
<path d="M591.88 674.38l1.7 1.7l-1.7 1.7l-1.7 -1.7z" fill="#0000ff"/>
<path d="M598.66 676.39l1.7 1.7l-1.7 1.7l-1.7 -1.7z" fill="#0000ff"/>
<path d="M603.69 675.63l1.7 1.7l-1.7 1.7l-1.7 -1.7z" fill="#0000ff"/>
<path d="M605.2 676.89l1.7 1.7l-1.7 1.7l-1.7 -1.7z" fill="#0000ff"/>
<path d="M599.92 683.42l1.7 1.7l-1.7 1.7l-1.7 -1.7z" fill="#0000ff"/>
<path d="M605.45 683.42l1.7 1.7l-1.7 1.7l-1.7 -1.7z" fill="#0000ff"/>
<path d="M598.66 686.44l1.7 1.7l-1.7 1.7l-1.7 -1.7z" fill="#0000ff"/>
<path d="M600.42 691.97l1.7 1.7l-1.7 1.7l-1.7 -1.7z" fill="#0000ff"/>
<path d="M603.69 691.97l1.7 1.7l-1.7 1.7l-1.7 -1.7z" fill="#0000ff"/>
<path d="M606.2 692.72l1.7 1.7l-1.7 1.7l-1.7 -1.7z" fill="#0000ff"/>
<path d="M594.9 695.74l1.7 1.7l-1.7 1.7l-1.7 -1.7z" fill="#0000ff"/>
<path d="M598.66 695.23l1.7 1.7l-1.7 1.7l-1.7 -1.7z" fill="#0000ff"/>
<path d="M601.93 695.99l1.7 1.7l-1.7 1.7l-1.7 -1.7z" fill="#0000ff"/>
<path d="M600.42 698.25l1.7 1.7l-1.7 1.7l-1.7 -1.7z" fill="#0000ff"/>
<path d="M597.91 699.5l1.7 1.7l-1.7 1.7l-1.7 -1.7z" fill="#0000ff"/>
<path d="M603.69 698.5l1.7 1.7l-1.7 1.7l-1.7 -1.7z" fill="#0000ff"/>
<path d="M611.23 699.76l1.7 1.7l-1.7 1.7l-1.7 -1.7z" fill="#0000ff"/>
<path d="M596.91 701.51l1.7 1.7l-1.7 1.7l-1.7 -1.7z" fill="#0000ff"/>
<path d="M599.42 701.51l1.7 1.7l-1.7 1.7l-1.7 -1.7z" fill="#0000ff"/>
<path d="M605.45 702.02l1.7 1.7l-1.7 1.7l-1.7 -1.7z" fill="#0000ff"/>
<path d="M596.15 703.52l1.7 1.7l-1.7 1.7l-1.7 -1.7z" fill="#0000ff"/>
<path d="M601.18 705.28l1.7 1.7l-1.7 1.7l-1.7 -1.7z" fill="#0000ff"/>
<path d="M602.94 706.54l1.7 1.7l-1.7 1.7l-1.7 -1.7z" fill="#0000ff"/>
<path d="M598.66 709.05l1.7 1.7l-1.7 1.7l-1.7 -1.7z" fill="#0000ff"/>
<path d="M601.93 709.81l1.7 1.7l-1.7 1.7l-1.7 -1.7z" fill="#0000ff"/>
<path d="M607.46 710.31l1.7 1.7l-1.7 1.7l-1.7 -1.7z" fill="#0000ff"/>
<path d="M603.69 711.56l1.7 1.7l-1.7 1.7l-1.7 -1.7z" fill="#0000ff"/>
<path d="M481.83 572.6 L481.86 575.02 L481.9 577.44 L481.95 579.86 L482.01 582.28 L482.08 584.7 L482.16 587.12 L482.27 589.54 L482.39 591.96 L482.53 594.38 L482.7 596.8 L482.9 599.22 L483.13 601.64 L483.39 604.06 L483.69 606.48 L484.03 608.9 L484.42 611.32 L484.86 613.74 L485.34 616.16 L485.88 618.58 L486.47 621 L487.11 623.42 L487.81 625.84 L488.57 628.26 L489.37 630.68 L490.22 633.1 L491.12 635.52 L492.06 637.94 L493.03 640.36 L494.02 642.78 L495.03 645.2 L496.04 647.62 L497.05 650.04 L498.04 652.46 L499 654.88 L499.92 657.3 L500.79 659.72 L501.59 662.14 L502.31 664.56 L502.94 666.98 L503.48 669.4 L503.91 671.82 L504.22 674.24 L504.42 676.66 L504.5 679.08 L504.45 681.5 L504.29 683.92 L504 686.34 L503.6 688.76 L503.09 691.18 L502.48 693.6 L501.79 696.02 L501.01 698.44 L500.16 700.86 L499.25 703.28 L498.3 705.7 L497.31 708.12 L496.31 710.54 L495.3 712.96 L494.29 715.38 L493.29 717.8" fill="none" stroke="#1e1e1e" stroke-width="0.75"/>
<path d="M599.79 639.6 L599.84 640.9 L599.9 642.2 L599.97 643.5 L600.05 644.79 L600.15 646.09 L600.27 647.39 L600.42 648.69 L600.59 649.99 L600.79 651.28 L601.03 652.58 L601.3 653.88 L601.62 655.18 L601.98 656.48 L602.39 657.78 L602.86 659.08 L603.38 660.37 L603.96 661.67 L604.61 662.97 L605.31 664.27 L606.08 665.57 L606.91 666.87 L607.8 668.16 L608.75 669.46 L609.74 670.76 L610.79 672.06 L611.87 673.36 L612.97 674.65 L614.1 675.95 L615.23 677.25 L616.35 678.55 L617.45 679.85 L618.52 681.15 L619.53 682.45 L620.49 683.74 L621.36 685.04 L622.14 686.34 L622.81 687.64 L623.37 688.94 L623.8 690.24 L624.1 691.53 L624.27 692.83 L624.29 694.13 L624.18 695.43 L623.92 696.73 L623.53 698.02 L623.01 699.32 L622.38 700.62 L621.63 701.92 L620.79 703.22 L619.86 704.52 L618.87 705.82 L617.82 707.11 L616.73 708.41 L615.61 709.71 L614.48 711.01 L613.35 712.31 L612.24 713.61 L611.15 714.9 L610.09 716.2 L609.08 717.5" fill="none" stroke="#1e1e1e" stroke-width="0.75"/>
<rect x="396.8" y="541.7" width="240.7" height="193.7" fill="none" stroke="#383838" stroke-width="1.1"/>
<path d="M393.2 559.3H396.8" stroke="#383838" stroke-width="1"/>
<text x="389.6" y="562.15" font-size="7.9" text-anchor="end" fill="#000" stroke="#000" stroke-width="0.22">1000</text>
<path d="M393.2 594.52H396.8" stroke="#383838" stroke-width="1"/>
<text x="389.6" y="597.37" font-size="7.9" text-anchor="end" fill="#000" stroke="#000" stroke-width="0.22">800</text>
<path d="M393.2 629.74H396.8" stroke="#383838" stroke-width="1"/>
<text x="389.6" y="632.59" font-size="7.9" text-anchor="end" fill="#000" stroke="#000" stroke-width="0.22">600</text>
<path d="M393.2 664.96H396.8" stroke="#383838" stroke-width="1"/>
<text x="389.6" y="667.81" font-size="7.9" text-anchor="end" fill="#000" stroke="#000" stroke-width="0.22">400</text>
<path d="M393.2 700.18H396.8" stroke="#383838" stroke-width="1"/>
<text x="389.6" y="703.03" font-size="7.9" text-anchor="end" fill="#000" stroke="#000" stroke-width="0.22">200</text>
<path d="M393.2 735.4H396.8" stroke="#383838" stroke-width="1"/>
<text x="389.6" y="738.25" font-size="7.9" text-anchor="end" fill="#000" stroke="#000" stroke-width="0.22">0</text>
<path d="M394.8 576.91H396.8" stroke="#383838" stroke-width="0.9"/>
<path d="M394.8 612.13H396.8" stroke="#383838" stroke-width="0.9"/>
<path d="M394.8 647.35H396.8" stroke="#383838" stroke-width="0.9"/>
<path d="M394.8 682.57H396.8" stroke="#383838" stroke-width="0.9"/>
<path d="M394.8 717.79H396.8" stroke="#383838" stroke-width="0.9"/>
<path d="M456.98 735.4V739.6" stroke="#383838" stroke-width="1"/>
<text x="456.98" y="748.7" font-size="8.3" text-anchor="middle" fill="#000" stroke="#000" stroke-width="0.22">Dry</text>
<path d="M577.33 735.4V739.6" stroke="#383838" stroke-width="1"/>
<text x="577.33" y="748.7" font-size="8.3" text-anchor="middle" fill="#000" stroke="#000" stroke-width="0.22">Wet</text>
<text transform="translate(368 639.7) rotate(-90)" font-size="10" text-anchor="middle" fill="#000" stroke="#000" stroke-width="0.2">Cl<tspan font-size="6" dy="-3.6">-</tspan><tspan dy="3.6"> (mg.L</tspan><tspan font-size="6" dy="-3.6">-1</tspan><tspan dy="3.6">)</tspan></text>
<g clip-path="url(#cr)">
<text x="638.8" y="664.6" font-size="10" fill="#000" stroke="#000" stroke-width="0.15">Legend</text>
<path d="M639.3 667.6H707.5" stroke="#9a9a9a" stroke-width="0.8"/>
<path d="M639.5 667.6V735.9" stroke="#555" stroke-width="0.8" fill="none"/>
<text x="652.9" y="673.2" font-size="4.9" fill="#000" stroke="#000" stroke-width="0.12">Dry Period</text>
<text x="652.9" y="679.3" font-size="4.9" fill="#000" stroke="#000" stroke-width="0.12">Wet Period</text>
<text x="652.9" y="685.4" font-size="4.9" fill="#000" stroke="#000" stroke-width="0.12">Groundwater</text>
<text x="652.9" y="691.5" font-size="4.9" fill="#000" stroke="#000" stroke-width="0.12">Samples</text>
<text x="651.3" y="697.6" font-size="4.9" fill="#000" stroke="#000" stroke-width="0.12">FAO Guideline</text>
<text x="652.9" y="703.7" font-size="4.9" fill="#000" stroke="#000" stroke-width="0.12">Range within</text>
<text x="652.9" y="709.8" font-size="4.9" fill="#000" stroke="#000" stroke-width="0.12">1.5IQR</text>
<text x="652.9" y="715.9" font-size="4.9" fill="#000" stroke="#000" stroke-width="0.12">Median</text>
<text x="652.9" y="722" font-size="4.9" fill="#000" stroke="#000" stroke-width="0.12">Max</text>
<text x="652.9" y="728.1" font-size="4.9" fill="#000" stroke="#000" stroke-width="0.12">Mean</text>
<text x="652.9" y="734.2" font-size="4.9" fill="#000" stroke="#000" stroke-width="0.12">Min</text>
<rect x="640.7" y="668.7" width="10.6" height="5" fill="#800000" stroke="#3a0000" stroke-width="0.6"/>
<rect x="640.7" y="674.8" width="10.6" height="5" fill="#0000ff" stroke="#00006a" stroke-width="0.6"/>
<path d="M645.9 681.9l1.5 1.5l-1.5 1.5l-1.5 -1.5z" fill="#0000ff"/>
<path d="M642.5 695.6h6.6" stroke="#ff4040" stroke-width="0.8"/>
<path d="M645.9 699v5.4M644.1 699h3.6M644.1 704.4h3.6" stroke="#444" stroke-width="0.7" fill="none"/>
<path d="M642.3 713.9h7" stroke="#444" stroke-width="0.8"/>
<path d="M644.9 720h2" stroke="#333" stroke-width="0.7"/>
<rect x="645.2" y="725.4" width="1.4" height="1.4" fill="none" stroke="#333" stroke-width="0.5"/>
<path d="M644.9 732.2h2" stroke="#555" stroke-width="0.6"/>
</g>
<text x="507.3" y="771.4" font-family="'Liberation Serif', serif" font-weight="bold" text-anchor="middle" letter-spacing="0.6" fill="#0a0a0a"><tspan font-size="16">(</tspan><tspan font-size="16.6" dy="1.6">f</tspan><tspan font-size="16" dy="-1.6">)</tspan></text>
</g>
<g>
<path d="M39.8 852.9H280.5" stroke="#ff8c8c" stroke-width="1.3"/>
<path d="M75.9 872.68V944.27M69.9 872.68H81.9M69.9 944.27H81.9" stroke="#3c3c3c" stroke-width="0.95" fill="none"/>
<rect x="53.2" y="899.77" width="45.4" height="18.71" fill="#800000" stroke="#300000" stroke-width="0.8"/>
<path d="M53.2 905.57H98.6" stroke="#101010" stroke-width="0.65"/>
<rect x="75.4" y="908.3" width="1" height="1" fill="#300000" opacity="0.8"/>
<path d="M196.15 915.68V972.65M190.15 915.68H202.15M190.15 972.65H202.15" stroke="#808080" stroke-width="1.25" fill="none"/>
<rect x="173.3" y="933.95" width="45.7" height="15.27" fill="#0000ff" stroke="#000070" stroke-width="0.8"/>
<path d="M173.3 944.27H219" stroke="#101010" stroke-width="0.65"/>
<rect x="195.65" y="935.17" width="1" height="1" fill="#000070" opacity="0.8"/>
<rect x="195.4" y="841.8" width="1" height="0.8" fill="#555"/>
<path d="M122.61 870.66l1.7 1.7l-1.7 1.7l-1.7 -1.7z" fill="#0000ff"/>
<path d="M124.87 878.2l1.7 1.7l-1.7 1.7l-1.7 -1.7z" fill="#0000ff"/>
<path d="M121.36 881.97l1.7 1.7l-1.7 1.7l-1.7 -1.7z" fill="#0000ff"/>
<path d="M125.63 887.5l1.7 1.7l-1.7 1.7l-1.7 -1.7z" fill="#0000ff"/>
<path d="M126.88 888.25l1.7 1.7l-1.7 1.7l-1.7 -1.7z" fill="#0000ff"/>
<path d="M120.6 891.77l1.7 1.7l-1.7 1.7l-1.7 -1.7z" fill="#0000ff"/>
<path d="M128.14 894.28l1.7 1.7l-1.7 1.7l-1.7 -1.7z" fill="#0000ff"/>
<path d="M119.85 895.03l1.7 1.7l-1.7 1.7l-1.7 -1.7z" fill="#0000ff"/>
<path d="M122.36 896.29l1.7 1.7l-1.7 1.7l-1.7 -1.7z" fill="#0000ff"/>
<path d="M121.36 898.8l1.7 1.7l-1.7 1.7l-1.7 -1.7z" fill="#0000ff"/>
<path d="M124.87 899.56l1.7 1.7l-1.7 1.7l-1.7 -1.7z" fill="#0000ff"/>
<path d="M126.88 900.06l1.7 1.7l-1.7 1.7l-1.7 -1.7z" fill="#0000ff"/>
<path d="M123.12 901.32l1.7 1.7l-1.7 1.7l-1.7 -1.7z" fill="#0000ff"/>
<path d="M128.89 901.82l1.7 1.7l-1.7 1.7l-1.7 -1.7z" fill="#0000ff"/>
<path d="M131.41 901.82l1.7 1.7l-1.7 1.7l-1.7 -1.7z" fill="#0000ff"/>
<path d="M116.33 903.83l1.7 1.7l-1.7 1.7l-1.7 -1.7z" fill="#0000ff"/>
<path d="M120.1 904.33l1.7 1.7l-1.7 1.7l-1.7 -1.7z" fill="#0000ff"/>
<path d="M123.12 903.83l1.7 1.7l-1.7 1.7l-1.7 -1.7z" fill="#0000ff"/>
<path d="M125.63 903.83l1.7 1.7l-1.7 1.7l-1.7 -1.7z" fill="#0000ff"/>
<path d="M122.36 906.34l1.7 1.7l-1.7 1.7l-1.7 -1.7z" fill="#0000ff"/>
<path d="M124.87 906.84l1.7 1.7l-1.7 1.7l-1.7 -1.7z" fill="#0000ff"/>
<path d="M121.36 908.85l1.7 1.7l-1.7 1.7l-1.7 -1.7z" fill="#0000ff"/>
<path d="M123.87 909.36l1.7 1.7l-1.7 1.7l-1.7 -1.7z" fill="#0000ff"/>
<path d="M126.38 909.61l1.7 1.7l-1.7 1.7l-1.7 -1.7z" fill="#0000ff"/>
<path d="M115.58 910.61l1.7 1.7l-1.7 1.7l-1.7 -1.7z" fill="#0000ff"/>
<path d="M117.34 912.62l1.7 1.7l-1.7 1.7l-1.7 -1.7z" fill="#0000ff"/>
<path d="M118.84 913.88l1.7 1.7l-1.7 1.7l-1.7 -1.7z" fill="#0000ff"/>
<path d="M124.87 916.39l1.7 1.7l-1.7 1.7l-1.7 -1.7z" fill="#0000ff"/>
<path d="M121.36 921.42l1.7 1.7l-1.7 1.7l-1.7 -1.7z" fill="#0000ff"/>
<path d="M123.87 925.94l1.7 1.7l-1.7 1.7l-1.7 -1.7z" fill="#0000ff"/>
<path d="M122.36 928.45l1.7 1.7l-1.7 1.7l-1.7 -1.7z" fill="#0000ff"/>
<path d="M124.37 931.39l1.7 1.7l-1.7 1.7l-1.7 -1.7z" fill="#0000ff"/>
<path d="M126.38 933.9l1.7 1.7l-1.7 1.7l-1.7 -1.7z" fill="#0000ff"/>
<path d="M129.9 934.66l1.7 1.7l-1.7 1.7l-1.7 -1.7z" fill="#0000ff"/>
<path d="M131.16 939.68l1.7 1.7l-1.7 1.7l-1.7 -1.7z" fill="#0000ff"/>
<path d="M119.35 942.7l1.7 1.7l-1.7 1.7l-1.7 -1.7z" fill="#0000ff"/>
<path d="M123.87 951.74l1.7 1.7l-1.7 1.7l-1.7 -1.7z" fill="#0000ff"/>
<path d="M246.13 840.51l1.7 1.7l-1.7 1.7l-1.7 -1.7z" fill="#0000ff"/>
<path d="M246.63 868.65l1.7 1.7l-1.7 1.7l-1.7 -1.7z" fill="#0000ff"/>
<path d="M242.86 887.5l1.7 1.7l-1.7 1.7l-1.7 -1.7z" fill="#0000ff"/>
<path d="M241.61 896.29l1.7 1.7l-1.7 1.7l-1.7 -1.7z" fill="#0000ff"/>
<path d="M240.1 905.08l1.7 1.7l-1.7 1.7l-1.7 -1.7z" fill="#0000ff"/>
<path d="M241.11 914.38l1.7 1.7l-1.7 1.7l-1.7 -1.7z" fill="#0000ff"/>
<path d="M241.11 914.05l1.7 1.7l-1.7 1.7l-1.7 -1.7z" fill="#0000ff"/>
<path d="M238.44 932.06l1.7 1.7l-1.7 1.7l-1.7 -1.7z" fill="#0000ff"/>
<path d="M242.6 930.6l1.7 1.7l-1.7 1.7l-1.7 -1.7z" fill="#0000ff"/>
<path d="M244.64 930.45l1.7 1.7l-1.7 1.7l-1.7 -1.7z" fill="#0000ff"/>
<path d="M242.96 934.25l1.7 1.7l-1.7 1.7l-1.7 -1.7z" fill="#0000ff"/>
<path d="M247.56 934.39l1.7 1.7l-1.7 1.7l-1.7 -1.7z" fill="#0000ff"/>
<path d="M246.61 935.71l1.7 1.7l-1.7 1.7l-1.7 -1.7z" fill="#0000ff"/>
<path d="M246.1 937.17l1.7 1.7l-1.7 1.7l-1.7 -1.7z" fill="#0000ff"/>
<path d="M238.58 939.72l1.7 1.7l-1.7 1.7l-1.7 -1.7z" fill="#0000ff"/>
<path d="M240.04 941.18l1.7 1.7l-1.7 1.7l-1.7 -1.7z" fill="#0000ff"/>
<path d="M241.87 941.55l1.7 1.7l-1.7 1.7l-1.7 -1.7z" fill="#0000ff"/>
<path d="M244.79 941.18l1.7 1.7l-1.7 1.7l-1.7 -1.7z" fill="#0000ff"/>
<path d="M247.34 941.55l1.7 1.7l-1.7 1.7l-1.7 -1.7z" fill="#0000ff"/>
<path d="M248.8 942.86l1.7 1.7l-1.7 1.7l-1.7 -1.7z" fill="#0000ff"/>
<path d="M240.77 943.37l1.7 1.7l-1.7 1.7l-1.7 -1.7z" fill="#0000ff"/>
<path d="M242.96 943.74l1.7 1.7l-1.7 1.7l-1.7 -1.7z" fill="#0000ff"/>
<path d="M245.52 944.1l1.7 1.7l-1.7 1.7l-1.7 -1.7z" fill="#0000ff"/>
<path d="M246.98 944.83l1.7 1.7l-1.7 1.7l-1.7 -1.7z" fill="#0000ff"/>
<path d="M253.55 944.61l1.7 1.7l-1.7 1.7l-1.7 -1.7z" fill="#0000ff"/>
<path d="M241.14 945.56l1.7 1.7l-1.7 1.7l-1.7 -1.7z" fill="#0000ff"/>
<path d="M243.69 945.93l1.7 1.7l-1.7 1.7l-1.7 -1.7z" fill="#0000ff"/>
<path d="M245.88 946.29l1.7 1.7l-1.7 1.7l-1.7 -1.7z" fill="#0000ff"/>
<path d="M249.9 947.39l1.7 1.7l-1.7 1.7l-1.7 -1.7z" fill="#0000ff"/>
<path d="M240.41 947.75l1.7 1.7l-1.7 1.7l-1.7 -1.7z" fill="#0000ff"/>
<path d="M242.6 948.12l1.7 1.7l-1.7 1.7l-1.7 -1.7z" fill="#0000ff"/>
<path d="M244.79 948.48l1.7 1.7l-1.7 1.7l-1.7 -1.7z" fill="#0000ff"/>
<path d="M248.8 948.85l1.7 1.7l-1.7 1.7l-1.7 -1.7z" fill="#0000ff"/>
<path d="M237.85 950.16l1.7 1.7l-1.7 1.7l-1.7 -1.7z" fill="#0000ff"/>
<path d="M241.14 949.94l1.7 1.7l-1.7 1.7l-1.7 -1.7z" fill="#0000ff"/>
<path d="M247.71 952.64l1.7 1.7l-1.7 1.7l-1.7 -1.7z" fill="#0000ff"/>
<path d="M241.65 967.83l1.7 1.7l-1.7 1.7l-1.7 -1.7z" fill="#0000ff"/>
<path d="M234.79 970.75l1.7 1.7l-1.7 1.7l-1.7 -1.7z" fill="#0000ff"/>
<path d="M123.61 851.5 L123.67 853.44 L123.75 855.38 L123.86 857.32 L124 859.25 L124.18 861.19 L124.41 863.13 L124.7 865.07 L125.06 867.01 L125.49 868.94 L126.01 870.88 L126.63 872.82 L127.36 874.76 L128.2 876.7 L129.15 878.64 L130.22 880.58 L131.41 882.51 L132.69 884.45 L134.06 886.39 L135.5 888.33 L136.98 890.27 L138.47 892.21 L139.94 894.14 L141.36 896.08 L142.67 898.02 L143.86 899.96 L144.87 901.9 L145.68 903.83 L146.27 905.77 L146.61 907.71 L146.7 909.65 L146.52 911.59 L146.09 913.53 L145.42 915.47 L144.53 917.4 L143.45 919.34 L142.21 921.28 L140.85 923.22 L139.42 925.16 L137.93 927.1 L136.44 929.03 L134.97 930.97 L133.56 932.91 L132.21 934.85 L130.97 936.79 L129.82 938.72 L128.79 940.66 L127.88 942.6 L127.08 944.54 L126.4 946.48 L125.81 948.42 L125.32 950.36 L124.92 952.29 L124.59 954.23 L124.32 956.17 L124.11 958.11 L123.95 960.05 L123.82 961.98 L123.72 963.92 L123.65 965.86 L123.59 967.8" fill="none" stroke="#1e1e1e" stroke-width="0.75"/>
<path d="M244.68 855.3 L244.72 857.4 L244.78 859.51 L244.86 861.62 L244.95 863.72 L245.06 865.82 L245.19 867.93 L245.35 870.03 L245.55 872.14 L245.78 874.25 L246.05 876.35 L246.37 878.45 L246.73 880.56 L247.15 882.66 L247.64 884.77 L248.18 886.88 L248.79 888.98 L249.46 891.08 L250.21 893.19 L251.02 895.29 L251.89 897.4 L252.83 899.5 L253.82 901.61 L254.86 903.72 L255.93 905.82 L257.04 907.92 L258.15 910.03 L259.26 912.13 L260.35 914.24 L261.41 916.35 L262.41 918.45 L263.35 920.55 L264.19 922.66 L264.94 924.76 L265.57 926.87 L266.06 928.98 L266.42 931.08 L266.64 933.18 L266.7 935.29 L266.61 937.39 L266.37 939.5 L265.98 941.61 L265.46 943.71 L264.81 945.82 L264.05 947.92 L263.18 950.02 L262.24 952.13 L261.22 954.24 L260.16 956.34 L259.06 958.45 L257.95 960.55 L256.84 962.65 L255.74 964.76 L254.67 966.87 L253.64 968.97 L252.66 971.08 L251.73 973.18 L250.87 975.29 L250.07 977.39 L249.34 979.5 L248.67 981.6" fill="none" stroke="#1e1e1e" stroke-width="0.75"/>
<rect x="39.8" y="809.6" width="240.7" height="193.8" fill="none" stroke="#383838" stroke-width="1.1"/>
<path d="M36.2 831.4H39.8" stroke="#383838" stroke-width="1"/>
<text x="33.3" y="834.25" font-size="7.9" text-anchor="end" fill="#000" stroke="#000" stroke-width="0.22">10</text>
<path d="M36.2 874.4H39.8" stroke="#383838" stroke-width="1"/>
<text x="33.3" y="877.25" font-size="7.9" text-anchor="end" fill="#000" stroke="#000" stroke-width="0.22">8</text>
<path d="M36.2 917.4H39.8" stroke="#383838" stroke-width="1"/>
<text x="33.3" y="920.25" font-size="7.9" text-anchor="end" fill="#000" stroke="#000" stroke-width="0.22">6</text>
<path d="M36.2 960.4H39.8" stroke="#383838" stroke-width="1"/>
<text x="33.3" y="963.25" font-size="7.9" text-anchor="end" fill="#000" stroke="#000" stroke-width="0.22">4</text>
<path d="M36.2 1003.4H39.8" stroke="#383838" stroke-width="1"/>
<text x="33.3" y="1006.25" font-size="7.9" text-anchor="end" fill="#000" stroke="#000" stroke-width="0.22">2</text>
<path d="M37.8 852.9H39.8" stroke="#383838" stroke-width="0.9"/>
<path d="M37.8 895.9H39.8" stroke="#383838" stroke-width="0.9"/>
<path d="M37.8 938.9H39.8" stroke="#383838" stroke-width="0.9"/>
<path d="M37.8 981.9H39.8" stroke="#383838" stroke-width="0.9"/>
<path d="M99.97 1003.4V1007.6" stroke="#383838" stroke-width="1"/>
<text x="99.97" y="1016.7" font-size="8.3" text-anchor="middle" fill="#000" stroke="#000" stroke-width="0.22">Dry</text>
<path d="M220.32 1003.4V1007.6" stroke="#383838" stroke-width="1"/>
<text x="220.32" y="1016.7" font-size="8.3" text-anchor="middle" fill="#000" stroke="#000" stroke-width="0.22">Wet</text>
<text transform="translate(19.5 906.8) rotate(-90)" font-size="10.4" text-anchor="middle" fill="#000" stroke="#000" stroke-width="0.2">SAR</text>
<g clip-path="url(#cl)">
<text x="281.8" y="932.6" font-size="10" fill="#000" stroke="#000" stroke-width="0.15">Legend</text>
<path d="M282.3 935.6H350.5" stroke="#9a9a9a" stroke-width="0.8"/>
<path d="M282.5 935.6V1003.9" stroke="#555" stroke-width="0.8" fill="none"/>
<text x="295" y="941.2" font-size="4.9" fill="#000" stroke="#000" stroke-width="0.12">Dry Period</text>
<text x="295" y="947.3" font-size="4.9" fill="#000" stroke="#000" stroke-width="0.12">Wet Period</text>
<text x="295" y="953.4" font-size="4.9" fill="#000" stroke="#000" stroke-width="0.12">Groundwater</text>
<text x="295" y="959.5" font-size="4.9" fill="#000" stroke="#000" stroke-width="0.12">Samples</text>
<text x="293.4" y="965.6" font-size="4.9" fill="#000" stroke="#000" stroke-width="0.12">FAO Guideline</text>
<text x="295" y="971.7" font-size="4.9" fill="#000" stroke="#000" stroke-width="0.12">Range within</text>
<text x="295" y="977.8" font-size="4.9" fill="#000" stroke="#000" stroke-width="0.12">1.5IQR</text>
<text x="295" y="983.9" font-size="4.9" fill="#000" stroke="#000" stroke-width="0.12">Median</text>
<text x="295" y="990" font-size="4.9" fill="#000" stroke="#000" stroke-width="0.12">Max</text>
<text x="295" y="996.1" font-size="4.9" fill="#000" stroke="#000" stroke-width="0.12">Mean</text>
<text x="295" y="1002.2" font-size="4.9" fill="#000" stroke="#000" stroke-width="0.12">Min</text>
<rect x="282.8" y="936.7" width="10.6" height="5" fill="#800000" stroke="#3a0000" stroke-width="0.6"/>
<rect x="282.8" y="942.8" width="10.6" height="5" fill="#0000ff" stroke="#00006a" stroke-width="0.6"/>
<path d="M288 949.9l1.5 1.5l-1.5 1.5l-1.5 -1.5z" fill="#0000ff"/>
<path d="M284.6 963.6h6.6" stroke="#ff4040" stroke-width="0.8"/>
<path d="M288 967v5.4M286.2 967h3.6M286.2 972.4h3.6" stroke="#444" stroke-width="0.7" fill="none"/>
<path d="M284.4 981.9h7" stroke="#444" stroke-width="0.8"/>
<path d="M287 988h2" stroke="#333" stroke-width="0.7"/>
<rect x="287.3" y="993.4" width="1.4" height="1.4" fill="none" stroke="#333" stroke-width="0.5"/>
<path d="M287 1000.2h2" stroke="#555" stroke-width="0.6"/>
</g>
<text x="150.2" y="1039.6" font-family="'Liberation Serif', serif" font-weight="bold" text-anchor="middle" letter-spacing="0.6" fill="#0a0a0a"><tspan font-size="16">(</tspan><tspan font-size="18" dy="1.6">g</tspan><tspan font-size="16" dy="-1.6">)</tspan></text>
</g>
</svg>
</body></html>
